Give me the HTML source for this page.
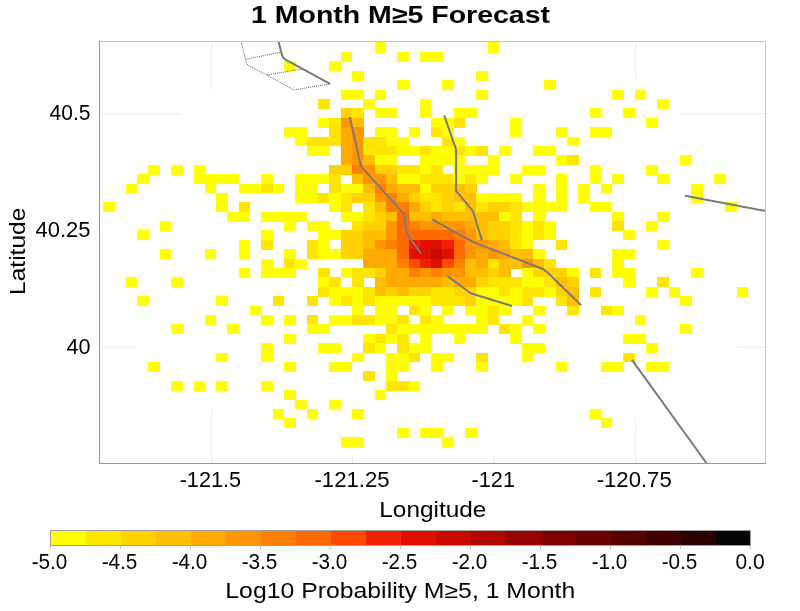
<!DOCTYPE html><html><head><meta charset="utf-8"><style>html,body{margin:0;padding:0;background:#fff;}body{width:800px;height:611px;position:relative;overflow:hidden}</style></head><body><svg width="800" height="611" viewBox="0 0 800 611" style="position:absolute;left:0;top:0;will-change:transform">
<defs><clipPath id="pc"><rect x="100" y="42" width="665" height="421"/></clipPath></defs>
<g stroke="#ebebeb" stroke-width="1" shape-rendering="crispEdges">
<line x1="211.5" y1="42" x2="211.5" y2="463"/>
<line x1="352.5" y1="42" x2="352.5" y2="463"/>
<line x1="493.5" y1="42" x2="493.5" y2="463"/>
<line x1="635.5" y1="42" x2="635.5" y2="463"/>
<line x1="100" y1="113.5" x2="765" y2="113.5"/>
<line x1="100" y1="230.5" x2="765" y2="230.5"/>
<line x1="100" y1="347.5" x2="765" y2="347.5"/>
</g>
<g clip-path="url(#pc)">
<path fill="#fff" d="M374.3 33.0h11.9v10.0h-11.9zM385.6 33.0h11.9v10.0h-11.9zM396.9 33.0h11.9v10.0h-11.9zM408.2 33.0h11.9v10.0h-11.9zM419.5 33.0h11.9v10.0h-11.9zM430.8 33.0h11.9v10.0h-11.9zM442.1 33.0h11.9v10.0h-11.9zM453.5 33.0h11.9v10.0h-11.9zM464.8 33.0h11.9v10.0h-11.9zM476.1 33.0h11.9v10.0h-11.9zM487.4 33.0h11.9v10.0h-11.9zM329.0 42.4h11.9v10.0h-11.9zM340.3 42.4h11.9v10.0h-11.9zM351.6 42.4h11.9v10.0h-11.9zM362.9 42.4h11.9v10.0h-11.9zM374.3 42.4h11.9v10.0h-11.9zM385.6 42.4h11.9v10.0h-11.9zM396.9 42.4h11.9v10.0h-11.9zM408.2 42.4h11.9v10.0h-11.9zM419.5 42.4h11.9v10.0h-11.9zM430.8 42.4h11.9v10.0h-11.9zM442.1 42.4h11.9v10.0h-11.9zM453.5 42.4h11.9v10.0h-11.9zM464.8 42.4h11.9v10.0h-11.9zM476.1 42.4h11.9v10.0h-11.9zM487.4 42.4h11.9v10.0h-11.9zM498.7 42.4h11.9v10.0h-11.9zM510.0 42.4h11.9v10.0h-11.9zM521.4 42.4h11.9v10.0h-11.9zM532.7 42.4h11.9v10.0h-11.9zM295.1 51.8h11.9v10.0h-11.9zM306.4 51.8h11.9v10.0h-11.9zM317.7 51.8h11.9v10.0h-11.9zM329.0 51.8h11.9v10.0h-11.9zM340.3 51.8h11.9v10.0h-11.9zM351.6 51.8h11.9v10.0h-11.9zM362.9 51.8h11.9v10.0h-11.9zM374.3 51.8h11.9v10.0h-11.9zM385.6 51.8h11.9v10.0h-11.9zM396.9 51.8h11.9v10.0h-11.9zM408.2 51.8h11.9v10.0h-11.9zM419.5 51.8h11.9v10.0h-11.9zM430.8 51.8h11.9v10.0h-11.9zM442.1 51.8h11.9v10.0h-11.9zM453.5 51.8h11.9v10.0h-11.9zM464.8 51.8h11.9v10.0h-11.9zM476.1 51.8h11.9v10.0h-11.9zM487.4 51.8h11.9v10.0h-11.9zM498.7 51.8h11.9v10.0h-11.9zM510.0 51.8h11.9v10.0h-11.9zM521.4 51.8h11.9v10.0h-11.9zM532.7 51.8h11.9v10.0h-11.9zM544.0 51.8h11.9v10.0h-11.9zM555.3 51.8h11.9v10.0h-11.9zM566.6 51.8h11.9v10.0h-11.9zM261.1 61.2h11.9v10.0h-11.9zM272.4 61.2h11.9v10.0h-11.9zM283.7 61.2h11.9v10.0h-11.9zM295.1 61.2h11.9v10.0h-11.9zM306.4 61.2h11.9v10.0h-11.9zM317.7 61.2h11.9v10.0h-11.9zM329.0 61.2h11.9v10.0h-11.9zM340.3 61.2h11.9v10.0h-11.9zM351.6 61.2h11.9v10.0h-11.9zM362.9 61.2h11.9v10.0h-11.9zM374.3 61.2h11.9v10.0h-11.9zM385.6 61.2h11.9v10.0h-11.9zM396.9 61.2h11.9v10.0h-11.9zM408.2 61.2h11.9v10.0h-11.9zM419.5 61.2h11.9v10.0h-11.9zM430.8 61.2h11.9v10.0h-11.9zM442.1 61.2h11.9v10.0h-11.9zM453.5 61.2h11.9v10.0h-11.9zM464.8 61.2h11.9v10.0h-11.9zM476.1 61.2h11.9v10.0h-11.9zM487.4 61.2h11.9v10.0h-11.9zM498.7 61.2h11.9v10.0h-11.9zM510.0 61.2h11.9v10.0h-11.9zM521.4 61.2h11.9v10.0h-11.9zM532.7 61.2h11.9v10.0h-11.9zM544.0 61.2h11.9v10.0h-11.9zM555.3 61.2h11.9v10.0h-11.9zM566.6 61.2h11.9v10.0h-11.9zM577.9 61.2h11.9v10.0h-11.9zM589.2 61.2h11.9v10.0h-11.9zM600.6 61.2h11.9v10.0h-11.9zM238.5 70.6h11.9v10.0h-11.9zM249.8 70.6h11.9v10.0h-11.9zM261.1 70.6h11.9v10.0h-11.9zM272.4 70.6h11.9v10.0h-11.9zM283.7 70.6h11.9v10.0h-11.9zM295.1 70.6h11.9v10.0h-11.9zM306.4 70.6h11.9v10.0h-11.9zM317.7 70.6h11.9v10.0h-11.9zM329.0 70.6h11.9v10.0h-11.9zM340.3 70.6h11.9v10.0h-11.9zM351.6 70.6h11.9v10.0h-11.9zM362.9 70.6h11.9v10.0h-11.9zM374.3 70.6h11.9v10.0h-11.9zM385.6 70.6h11.9v10.0h-11.9zM396.9 70.6h11.9v10.0h-11.9zM408.2 70.6h11.9v10.0h-11.9zM419.5 70.6h11.9v10.0h-11.9zM430.8 70.6h11.9v10.0h-11.9zM442.1 70.6h11.9v10.0h-11.9zM453.5 70.6h11.9v10.0h-11.9zM464.8 70.6h11.9v10.0h-11.9zM476.1 70.6h11.9v10.0h-11.9zM487.4 70.6h11.9v10.0h-11.9zM498.7 70.6h11.9v10.0h-11.9zM510.0 70.6h11.9v10.0h-11.9zM521.4 70.6h11.9v10.0h-11.9zM532.7 70.6h11.9v10.0h-11.9zM544.0 70.6h11.9v10.0h-11.9zM555.3 70.6h11.9v10.0h-11.9zM566.6 70.6h11.9v10.0h-11.9zM577.9 70.6h11.9v10.0h-11.9zM589.2 70.6h11.9v10.0h-11.9zM600.6 70.6h11.9v10.0h-11.9zM611.9 70.6h11.9v10.0h-11.9zM623.2 70.6h11.9v10.0h-11.9zM227.2 80.0h11.9v10.0h-11.9zM238.5 80.0h11.9v10.0h-11.9zM249.8 80.0h11.9v10.0h-11.9zM261.1 80.0h11.9v10.0h-11.9zM272.4 80.0h11.9v10.0h-11.9zM283.7 80.0h11.9v10.0h-11.9zM295.1 80.0h11.9v10.0h-11.9zM306.4 80.0h11.9v10.0h-11.9zM317.7 80.0h11.9v10.0h-11.9zM329.0 80.0h11.9v10.0h-11.9zM340.3 80.0h11.9v10.0h-11.9zM351.6 80.0h11.9v10.0h-11.9zM362.9 80.0h11.9v10.0h-11.9zM374.3 80.0h11.9v10.0h-11.9zM385.6 80.0h11.9v10.0h-11.9zM396.9 80.0h11.9v10.0h-11.9zM408.2 80.0h11.9v10.0h-11.9zM419.5 80.0h11.9v10.0h-11.9zM430.8 80.0h11.9v10.0h-11.9zM442.1 80.0h11.9v10.0h-11.9zM453.5 80.0h11.9v10.0h-11.9zM464.8 80.0h11.9v10.0h-11.9zM476.1 80.0h11.9v10.0h-11.9zM487.4 80.0h11.9v10.0h-11.9zM498.7 80.0h11.9v10.0h-11.9zM510.0 80.0h11.9v10.0h-11.9zM521.4 80.0h11.9v10.0h-11.9zM532.7 80.0h11.9v10.0h-11.9zM544.0 80.0h11.9v10.0h-11.9zM555.3 80.0h11.9v10.0h-11.9zM566.6 80.0h11.9v10.0h-11.9zM577.9 80.0h11.9v10.0h-11.9zM589.2 80.0h11.9v10.0h-11.9zM600.6 80.0h11.9v10.0h-11.9zM611.9 80.0h11.9v10.0h-11.9zM623.2 80.0h11.9v10.0h-11.9zM634.5 80.0h11.9v10.0h-11.9zM204.5 89.4h11.9v10.0h-11.9zM215.8 89.4h11.9v10.0h-11.9zM227.2 89.4h11.9v10.0h-11.9zM238.5 89.4h11.9v10.0h-11.9zM249.8 89.4h11.9v10.0h-11.9zM261.1 89.4h11.9v10.0h-11.9zM272.4 89.4h11.9v10.0h-11.9zM283.7 89.4h11.9v10.0h-11.9zM295.1 89.4h11.9v10.0h-11.9zM306.4 89.4h11.9v10.0h-11.9zM317.7 89.4h11.9v10.0h-11.9zM329.0 89.4h11.9v10.0h-11.9zM340.3 89.4h11.9v10.0h-11.9zM351.6 89.4h11.9v10.0h-11.9zM362.9 89.4h11.9v10.0h-11.9zM374.3 89.4h11.9v10.0h-11.9zM385.6 89.4h11.9v10.0h-11.9zM396.9 89.4h11.9v10.0h-11.9zM408.2 89.4h11.9v10.0h-11.9zM419.5 89.4h11.9v10.0h-11.9zM430.8 89.4h11.9v10.0h-11.9zM442.1 89.4h11.9v10.0h-11.9zM453.5 89.4h11.9v10.0h-11.9zM464.8 89.4h11.9v10.0h-11.9zM476.1 89.4h11.9v10.0h-11.9zM487.4 89.4h11.9v10.0h-11.9zM498.7 89.4h11.9v10.0h-11.9zM510.0 89.4h11.9v10.0h-11.9zM521.4 89.4h11.9v10.0h-11.9zM532.7 89.4h11.9v10.0h-11.9zM544.0 89.4h11.9v10.0h-11.9zM555.3 89.4h11.9v10.0h-11.9zM566.6 89.4h11.9v10.0h-11.9zM577.9 89.4h11.9v10.0h-11.9zM589.2 89.4h11.9v10.0h-11.9zM600.6 89.4h11.9v10.0h-11.9zM611.9 89.4h11.9v10.0h-11.9zM623.2 89.4h11.9v10.0h-11.9zM634.5 89.4h11.9v10.0h-11.9zM645.8 89.4h11.9v10.0h-11.9zM657.1 89.4h11.9v10.0h-11.9zM193.2 98.7h11.9v10.0h-11.9zM204.5 98.7h11.9v10.0h-11.9zM215.8 98.7h11.9v10.0h-11.9zM227.2 98.7h11.9v10.0h-11.9zM238.5 98.7h11.9v10.0h-11.9zM249.8 98.7h11.9v10.0h-11.9zM261.1 98.7h11.9v10.0h-11.9zM272.4 98.7h11.9v10.0h-11.9zM283.7 98.7h11.9v10.0h-11.9zM295.1 98.7h11.9v10.0h-11.9zM306.4 98.7h11.9v10.0h-11.9zM317.7 98.7h11.9v10.0h-11.9zM329.0 98.7h11.9v10.0h-11.9zM340.3 98.7h11.9v10.0h-11.9zM351.6 98.7h11.9v10.0h-11.9zM362.9 98.7h11.9v10.0h-11.9zM374.3 98.7h11.9v10.0h-11.9zM385.6 98.7h11.9v10.0h-11.9zM396.9 98.7h11.9v10.0h-11.9zM408.2 98.7h11.9v10.0h-11.9zM419.5 98.7h11.9v10.0h-11.9zM430.8 98.7h11.9v10.0h-11.9zM442.1 98.7h11.9v10.0h-11.9zM453.5 98.7h11.9v10.0h-11.9zM464.8 98.7h11.9v10.0h-11.9zM476.1 98.7h11.9v10.0h-11.9zM487.4 98.7h11.9v10.0h-11.9zM498.7 98.7h11.9v10.0h-11.9zM510.0 98.7h11.9v10.0h-11.9zM521.4 98.7h11.9v10.0h-11.9zM532.7 98.7h11.9v10.0h-11.9zM544.0 98.7h11.9v10.0h-11.9zM555.3 98.7h11.9v10.0h-11.9zM566.6 98.7h11.9v10.0h-11.9zM577.9 98.7h11.9v10.0h-11.9zM589.2 98.7h11.9v10.0h-11.9zM600.6 98.7h11.9v10.0h-11.9zM611.9 98.7h11.9v10.0h-11.9zM623.2 98.7h11.9v10.0h-11.9zM634.5 98.7h11.9v10.0h-11.9zM645.8 98.7h11.9v10.0h-11.9zM657.1 98.7h11.9v10.0h-11.9zM668.5 98.7h11.9v10.0h-11.9zM181.9 108.1h11.9v10.0h-11.9zM193.2 108.1h11.9v10.0h-11.9zM204.5 108.1h11.9v10.0h-11.9zM215.8 108.1h11.9v10.0h-11.9zM227.2 108.1h11.9v10.0h-11.9zM238.5 108.1h11.9v10.0h-11.9zM249.8 108.1h11.9v10.0h-11.9zM261.1 108.1h11.9v10.0h-11.9zM272.4 108.1h11.9v10.0h-11.9zM283.7 108.1h11.9v10.0h-11.9zM295.1 108.1h11.9v10.0h-11.9zM306.4 108.1h11.9v10.0h-11.9zM317.7 108.1h11.9v10.0h-11.9zM329.0 108.1h11.9v10.0h-11.9zM340.3 108.1h11.9v10.0h-11.9zM351.6 108.1h11.9v10.0h-11.9zM362.9 108.1h11.9v10.0h-11.9zM374.3 108.1h11.9v10.0h-11.9zM385.6 108.1h11.9v10.0h-11.9zM396.9 108.1h11.9v10.0h-11.9zM408.2 108.1h11.9v10.0h-11.9zM419.5 108.1h11.9v10.0h-11.9zM430.8 108.1h11.9v10.0h-11.9zM442.1 108.1h11.9v10.0h-11.9zM453.5 108.1h11.9v10.0h-11.9zM464.8 108.1h11.9v10.0h-11.9zM476.1 108.1h11.9v10.0h-11.9zM487.4 108.1h11.9v10.0h-11.9zM498.7 108.1h11.9v10.0h-11.9zM510.0 108.1h11.9v10.0h-11.9zM521.4 108.1h11.9v10.0h-11.9zM532.7 108.1h11.9v10.0h-11.9zM544.0 108.1h11.9v10.0h-11.9zM555.3 108.1h11.9v10.0h-11.9zM566.6 108.1h11.9v10.0h-11.9zM577.9 108.1h11.9v10.0h-11.9zM589.2 108.1h11.9v10.0h-11.9zM600.6 108.1h11.9v10.0h-11.9zM611.9 108.1h11.9v10.0h-11.9zM623.2 108.1h11.9v10.0h-11.9zM634.5 108.1h11.9v10.0h-11.9zM645.8 108.1h11.9v10.0h-11.9zM657.1 108.1h11.9v10.0h-11.9zM668.5 108.1h11.9v10.0h-11.9zM170.6 117.5h11.9v10.0h-11.9zM181.9 117.5h11.9v10.0h-11.9zM193.2 117.5h11.9v10.0h-11.9zM204.5 117.5h11.9v10.0h-11.9zM215.8 117.5h11.9v10.0h-11.9zM227.2 117.5h11.9v10.0h-11.9zM238.5 117.5h11.9v10.0h-11.9zM249.8 117.5h11.9v10.0h-11.9zM261.1 117.5h11.9v10.0h-11.9zM272.4 117.5h11.9v10.0h-11.9zM283.7 117.5h11.9v10.0h-11.9zM295.1 117.5h11.9v10.0h-11.9zM306.4 117.5h11.9v10.0h-11.9zM317.7 117.5h11.9v10.0h-11.9zM329.0 117.5h11.9v10.0h-11.9zM340.3 117.5h11.9v10.0h-11.9zM351.6 117.5h11.9v10.0h-11.9zM362.9 117.5h11.9v10.0h-11.9zM374.3 117.5h11.9v10.0h-11.9zM385.6 117.5h11.9v10.0h-11.9zM396.9 117.5h11.9v10.0h-11.9zM408.2 117.5h11.9v10.0h-11.9zM419.5 117.5h11.9v10.0h-11.9zM430.8 117.5h11.9v10.0h-11.9zM442.1 117.5h11.9v10.0h-11.9zM453.5 117.5h11.9v10.0h-11.9zM464.8 117.5h11.9v10.0h-11.9zM476.1 117.5h11.9v10.0h-11.9zM487.4 117.5h11.9v10.0h-11.9zM498.7 117.5h11.9v10.0h-11.9zM510.0 117.5h11.9v10.0h-11.9zM521.4 117.5h11.9v10.0h-11.9zM532.7 117.5h11.9v10.0h-11.9zM544.0 117.5h11.9v10.0h-11.9zM555.3 117.5h11.9v10.0h-11.9zM566.6 117.5h11.9v10.0h-11.9zM577.9 117.5h11.9v10.0h-11.9zM589.2 117.5h11.9v10.0h-11.9zM600.6 117.5h11.9v10.0h-11.9zM611.9 117.5h11.9v10.0h-11.9zM623.2 117.5h11.9v10.0h-11.9zM634.5 117.5h11.9v10.0h-11.9zM645.8 117.5h11.9v10.0h-11.9zM657.1 117.5h11.9v10.0h-11.9zM668.5 117.5h11.9v10.0h-11.9zM679.8 117.5h11.9v10.0h-11.9zM691.1 117.5h11.9v10.0h-11.9zM159.3 126.9h11.9v10.0h-11.9zM170.6 126.9h11.9v10.0h-11.9zM181.9 126.9h11.9v10.0h-11.9zM193.2 126.9h11.9v10.0h-11.9zM204.5 126.9h11.9v10.0h-11.9zM215.8 126.9h11.9v10.0h-11.9zM227.2 126.9h11.9v10.0h-11.9zM238.5 126.9h11.9v10.0h-11.9zM249.8 126.9h11.9v10.0h-11.9zM261.1 126.9h11.9v10.0h-11.9zM272.4 126.9h11.9v10.0h-11.9zM283.7 126.9h11.9v10.0h-11.9zM295.1 126.9h11.9v10.0h-11.9zM306.4 126.9h11.9v10.0h-11.9zM317.7 126.9h11.9v10.0h-11.9zM329.0 126.9h11.9v10.0h-11.9zM340.3 126.9h11.9v10.0h-11.9zM351.6 126.9h11.9v10.0h-11.9zM362.9 126.9h11.9v10.0h-11.9zM374.3 126.9h11.9v10.0h-11.9zM385.6 126.9h11.9v10.0h-11.9zM396.9 126.9h11.9v10.0h-11.9zM408.2 126.9h11.9v10.0h-11.9zM419.5 126.9h11.9v10.0h-11.9zM430.8 126.9h11.9v10.0h-11.9zM442.1 126.9h11.9v10.0h-11.9zM453.5 126.9h11.9v10.0h-11.9zM464.8 126.9h11.9v10.0h-11.9zM476.1 126.9h11.9v10.0h-11.9zM487.4 126.9h11.9v10.0h-11.9zM498.7 126.9h11.9v10.0h-11.9zM510.0 126.9h11.9v10.0h-11.9zM521.4 126.9h11.9v10.0h-11.9zM532.7 126.9h11.9v10.0h-11.9zM544.0 126.9h11.9v10.0h-11.9zM555.3 126.9h11.9v10.0h-11.9zM566.6 126.9h11.9v10.0h-11.9zM577.9 126.9h11.9v10.0h-11.9zM589.2 126.9h11.9v10.0h-11.9zM600.6 126.9h11.9v10.0h-11.9zM611.9 126.9h11.9v10.0h-11.9zM623.2 126.9h11.9v10.0h-11.9zM634.5 126.9h11.9v10.0h-11.9zM645.8 126.9h11.9v10.0h-11.9zM657.1 126.9h11.9v10.0h-11.9zM668.5 126.9h11.9v10.0h-11.9zM679.8 126.9h11.9v10.0h-11.9zM691.1 126.9h11.9v10.0h-11.9zM702.4 126.9h11.9v10.0h-11.9zM148.0 136.3h11.9v10.0h-11.9zM159.3 136.3h11.9v10.0h-11.9zM170.6 136.3h11.9v10.0h-11.9zM181.9 136.3h11.9v10.0h-11.9zM193.2 136.3h11.9v10.0h-11.9zM204.5 136.3h11.9v10.0h-11.9zM215.8 136.3h11.9v10.0h-11.9zM227.2 136.3h11.9v10.0h-11.9zM238.5 136.3h11.9v10.0h-11.9zM249.8 136.3h11.9v10.0h-11.9zM261.1 136.3h11.9v10.0h-11.9zM272.4 136.3h11.9v10.0h-11.9zM283.7 136.3h11.9v10.0h-11.9zM295.1 136.3h11.9v10.0h-11.9zM306.4 136.3h11.9v10.0h-11.9zM317.7 136.3h11.9v10.0h-11.9zM329.0 136.3h11.9v10.0h-11.9zM340.3 136.3h11.9v10.0h-11.9zM351.6 136.3h11.9v10.0h-11.9zM362.9 136.3h11.9v10.0h-11.9zM374.3 136.3h11.9v10.0h-11.9zM385.6 136.3h11.9v10.0h-11.9zM396.9 136.3h11.9v10.0h-11.9zM408.2 136.3h11.9v10.0h-11.9zM419.5 136.3h11.9v10.0h-11.9zM430.8 136.3h11.9v10.0h-11.9zM442.1 136.3h11.9v10.0h-11.9zM453.5 136.3h11.9v10.0h-11.9zM464.8 136.3h11.9v10.0h-11.9zM476.1 136.3h11.9v10.0h-11.9zM487.4 136.3h11.9v10.0h-11.9zM498.7 136.3h11.9v10.0h-11.9zM510.0 136.3h11.9v10.0h-11.9zM521.4 136.3h11.9v10.0h-11.9zM532.7 136.3h11.9v10.0h-11.9zM544.0 136.3h11.9v10.0h-11.9zM555.3 136.3h11.9v10.0h-11.9zM566.6 136.3h11.9v10.0h-11.9zM577.9 136.3h11.9v10.0h-11.9zM589.2 136.3h11.9v10.0h-11.9zM600.6 136.3h11.9v10.0h-11.9zM611.9 136.3h11.9v10.0h-11.9zM623.2 136.3h11.9v10.0h-11.9zM634.5 136.3h11.9v10.0h-11.9zM645.8 136.3h11.9v10.0h-11.9zM657.1 136.3h11.9v10.0h-11.9zM668.5 136.3h11.9v10.0h-11.9zM679.8 136.3h11.9v10.0h-11.9zM691.1 136.3h11.9v10.0h-11.9zM702.4 136.3h11.9v10.0h-11.9zM713.7 136.3h11.9v10.0h-11.9zM136.6 145.7h11.9v10.0h-11.9zM148.0 145.7h11.9v10.0h-11.9zM159.3 145.7h11.9v10.0h-11.9zM170.6 145.7h11.9v10.0h-11.9zM181.9 145.7h11.9v10.0h-11.9zM193.2 145.7h11.9v10.0h-11.9zM204.5 145.7h11.9v10.0h-11.9zM215.8 145.7h11.9v10.0h-11.9zM227.2 145.7h11.9v10.0h-11.9zM238.5 145.7h11.9v10.0h-11.9zM249.8 145.7h11.9v10.0h-11.9zM261.1 145.7h11.9v10.0h-11.9zM272.4 145.7h11.9v10.0h-11.9zM283.7 145.7h11.9v10.0h-11.9zM295.1 145.7h11.9v10.0h-11.9zM306.4 145.7h11.9v10.0h-11.9zM317.7 145.7h11.9v10.0h-11.9zM329.0 145.7h11.9v10.0h-11.9zM340.3 145.7h11.9v10.0h-11.9zM351.6 145.7h11.9v10.0h-11.9zM362.9 145.7h11.9v10.0h-11.9zM374.3 145.7h11.9v10.0h-11.9zM385.6 145.7h11.9v10.0h-11.9zM396.9 145.7h11.9v10.0h-11.9zM408.2 145.7h11.9v10.0h-11.9zM419.5 145.7h11.9v10.0h-11.9zM430.8 145.7h11.9v10.0h-11.9zM442.1 145.7h11.9v10.0h-11.9zM453.5 145.7h11.9v10.0h-11.9zM464.8 145.7h11.9v10.0h-11.9zM476.1 145.7h11.9v10.0h-11.9zM487.4 145.7h11.9v10.0h-11.9zM498.7 145.7h11.9v10.0h-11.9zM510.0 145.7h11.9v10.0h-11.9zM521.4 145.7h11.9v10.0h-11.9zM532.7 145.7h11.9v10.0h-11.9zM544.0 145.7h11.9v10.0h-11.9zM555.3 145.7h11.9v10.0h-11.9zM566.6 145.7h11.9v10.0h-11.9zM577.9 145.7h11.9v10.0h-11.9zM589.2 145.7h11.9v10.0h-11.9zM600.6 145.7h11.9v10.0h-11.9zM611.9 145.7h11.9v10.0h-11.9zM623.2 145.7h11.9v10.0h-11.9zM634.5 145.7h11.9v10.0h-11.9zM645.8 145.7h11.9v10.0h-11.9zM657.1 145.7h11.9v10.0h-11.9zM668.5 145.7h11.9v10.0h-11.9zM679.8 145.7h11.9v10.0h-11.9zM691.1 145.7h11.9v10.0h-11.9zM702.4 145.7h11.9v10.0h-11.9zM713.7 145.7h11.9v10.0h-11.9zM725.0 145.7h11.9v10.0h-11.9zM125.3 155.1h11.9v10.0h-11.9zM136.6 155.1h11.9v10.0h-11.9zM148.0 155.1h11.9v10.0h-11.9zM159.3 155.1h11.9v10.0h-11.9zM170.6 155.1h11.9v10.0h-11.9zM181.9 155.1h11.9v10.0h-11.9zM193.2 155.1h11.9v10.0h-11.9zM204.5 155.1h11.9v10.0h-11.9zM215.8 155.1h11.9v10.0h-11.9zM227.2 155.1h11.9v10.0h-11.9zM238.5 155.1h11.9v10.0h-11.9zM249.8 155.1h11.9v10.0h-11.9zM261.1 155.1h11.9v10.0h-11.9zM272.4 155.1h11.9v10.0h-11.9zM283.7 155.1h11.9v10.0h-11.9zM295.1 155.1h11.9v10.0h-11.9zM306.4 155.1h11.9v10.0h-11.9zM317.7 155.1h11.9v10.0h-11.9zM329.0 155.1h11.9v10.0h-11.9zM340.3 155.1h11.9v10.0h-11.9zM351.6 155.1h11.9v10.0h-11.9zM362.9 155.1h11.9v10.0h-11.9zM374.3 155.1h11.9v10.0h-11.9zM385.6 155.1h11.9v10.0h-11.9zM396.9 155.1h11.9v10.0h-11.9zM408.2 155.1h11.9v10.0h-11.9zM419.5 155.1h11.9v10.0h-11.9zM430.8 155.1h11.9v10.0h-11.9zM442.1 155.1h11.9v10.0h-11.9zM453.5 155.1h11.9v10.0h-11.9zM464.8 155.1h11.9v10.0h-11.9zM476.1 155.1h11.9v10.0h-11.9zM487.4 155.1h11.9v10.0h-11.9zM498.7 155.1h11.9v10.0h-11.9zM510.0 155.1h11.9v10.0h-11.9zM521.4 155.1h11.9v10.0h-11.9zM532.7 155.1h11.9v10.0h-11.9zM544.0 155.1h11.9v10.0h-11.9zM555.3 155.1h11.9v10.0h-11.9zM566.6 155.1h11.9v10.0h-11.9zM577.9 155.1h11.9v10.0h-11.9zM589.2 155.1h11.9v10.0h-11.9zM600.6 155.1h11.9v10.0h-11.9zM611.9 155.1h11.9v10.0h-11.9zM623.2 155.1h11.9v10.0h-11.9zM634.5 155.1h11.9v10.0h-11.9zM645.8 155.1h11.9v10.0h-11.9zM657.1 155.1h11.9v10.0h-11.9zM668.5 155.1h11.9v10.0h-11.9zM679.8 155.1h11.9v10.0h-11.9zM691.1 155.1h11.9v10.0h-11.9zM702.4 155.1h11.9v10.0h-11.9zM713.7 155.1h11.9v10.0h-11.9zM725.0 155.1h11.9v10.0h-11.9zM736.3 155.1h11.9v10.0h-11.9zM125.3 164.5h11.9v10.0h-11.9zM136.6 164.5h11.9v10.0h-11.9zM148.0 164.5h11.9v10.0h-11.9zM159.3 164.5h11.9v10.0h-11.9zM170.6 164.5h11.9v10.0h-11.9zM181.9 164.5h11.9v10.0h-11.9zM193.2 164.5h11.9v10.0h-11.9zM204.5 164.5h11.9v10.0h-11.9zM215.8 164.5h11.9v10.0h-11.9zM227.2 164.5h11.9v10.0h-11.9zM238.5 164.5h11.9v10.0h-11.9zM249.8 164.5h11.9v10.0h-11.9zM261.1 164.5h11.9v10.0h-11.9zM272.4 164.5h11.9v10.0h-11.9zM283.7 164.5h11.9v10.0h-11.9zM295.1 164.5h11.9v10.0h-11.9zM306.4 164.5h11.9v10.0h-11.9zM317.7 164.5h11.9v10.0h-11.9zM329.0 164.5h11.9v10.0h-11.9zM340.3 164.5h11.9v10.0h-11.9zM351.6 164.5h11.9v10.0h-11.9zM362.9 164.5h11.9v10.0h-11.9zM374.3 164.5h11.9v10.0h-11.9zM385.6 164.5h11.9v10.0h-11.9zM396.9 164.5h11.9v10.0h-11.9zM408.2 164.5h11.9v10.0h-11.9zM419.5 164.5h11.9v10.0h-11.9zM430.8 164.5h11.9v10.0h-11.9zM442.1 164.5h11.9v10.0h-11.9zM453.5 164.5h11.9v10.0h-11.9zM464.8 164.5h11.9v10.0h-11.9zM476.1 164.5h11.9v10.0h-11.9zM487.4 164.5h11.9v10.0h-11.9zM498.7 164.5h11.9v10.0h-11.9zM510.0 164.5h11.9v10.0h-11.9zM521.4 164.5h11.9v10.0h-11.9zM532.7 164.5h11.9v10.0h-11.9zM544.0 164.5h11.9v10.0h-11.9zM555.3 164.5h11.9v10.0h-11.9zM566.6 164.5h11.9v10.0h-11.9zM577.9 164.5h11.9v10.0h-11.9zM589.2 164.5h11.9v10.0h-11.9zM600.6 164.5h11.9v10.0h-11.9zM611.9 164.5h11.9v10.0h-11.9zM623.2 164.5h11.9v10.0h-11.9zM634.5 164.5h11.9v10.0h-11.9zM645.8 164.5h11.9v10.0h-11.9zM657.1 164.5h11.9v10.0h-11.9zM668.5 164.5h11.9v10.0h-11.9zM679.8 164.5h11.9v10.0h-11.9zM691.1 164.5h11.9v10.0h-11.9zM702.4 164.5h11.9v10.0h-11.9zM713.7 164.5h11.9v10.0h-11.9zM725.0 164.5h11.9v10.0h-11.9zM736.3 164.5h11.9v10.0h-11.9zM114.0 173.9h11.9v10.0h-11.9zM125.3 173.9h11.9v10.0h-11.9zM136.6 173.9h11.9v10.0h-11.9zM148.0 173.9h11.9v10.0h-11.9zM159.3 173.9h11.9v10.0h-11.9zM170.6 173.9h11.9v10.0h-11.9zM181.9 173.9h11.9v10.0h-11.9zM193.2 173.9h11.9v10.0h-11.9zM204.5 173.9h11.9v10.0h-11.9zM215.8 173.9h11.9v10.0h-11.9zM227.2 173.9h11.9v10.0h-11.9zM238.5 173.9h11.9v10.0h-11.9zM249.8 173.9h11.9v10.0h-11.9zM261.1 173.9h11.9v10.0h-11.9zM272.4 173.9h11.9v10.0h-11.9zM283.7 173.9h11.9v10.0h-11.9zM295.1 173.9h11.9v10.0h-11.9zM306.4 173.9h11.9v10.0h-11.9zM317.7 173.9h11.9v10.0h-11.9zM329.0 173.9h11.9v10.0h-11.9zM340.3 173.9h11.9v10.0h-11.9zM351.6 173.9h11.9v10.0h-11.9zM362.9 173.9h11.9v10.0h-11.9zM374.3 173.9h11.9v10.0h-11.9zM385.6 173.9h11.9v10.0h-11.9zM396.9 173.9h11.9v10.0h-11.9zM408.2 173.9h11.9v10.0h-11.9zM419.5 173.9h11.9v10.0h-11.9zM430.8 173.9h11.9v10.0h-11.9zM442.1 173.9h11.9v10.0h-11.9zM453.5 173.9h11.9v10.0h-11.9zM464.8 173.9h11.9v10.0h-11.9zM476.1 173.9h11.9v10.0h-11.9zM487.4 173.9h11.9v10.0h-11.9zM498.7 173.9h11.9v10.0h-11.9zM510.0 173.9h11.9v10.0h-11.9zM521.4 173.9h11.9v10.0h-11.9zM532.7 173.9h11.9v10.0h-11.9zM544.0 173.9h11.9v10.0h-11.9zM555.3 173.9h11.9v10.0h-11.9zM566.6 173.9h11.9v10.0h-11.9zM577.9 173.9h11.9v10.0h-11.9zM589.2 173.9h11.9v10.0h-11.9zM600.6 173.9h11.9v10.0h-11.9zM611.9 173.9h11.9v10.0h-11.9zM623.2 173.9h11.9v10.0h-11.9zM634.5 173.9h11.9v10.0h-11.9zM645.8 173.9h11.9v10.0h-11.9zM657.1 173.9h11.9v10.0h-11.9zM668.5 173.9h11.9v10.0h-11.9zM679.8 173.9h11.9v10.0h-11.9zM691.1 173.9h11.9v10.0h-11.9zM702.4 173.9h11.9v10.0h-11.9zM713.7 173.9h11.9v10.0h-11.9zM725.0 173.9h11.9v10.0h-11.9zM736.3 173.9h11.9v10.0h-11.9zM747.7 173.9h11.9v10.0h-11.9zM114.0 183.2h11.9v10.0h-11.9zM125.3 183.2h11.9v10.0h-11.9zM136.6 183.2h11.9v10.0h-11.9zM148.0 183.2h11.9v10.0h-11.9zM159.3 183.2h11.9v10.0h-11.9zM170.6 183.2h11.9v10.0h-11.9zM181.9 183.2h11.9v10.0h-11.9zM193.2 183.2h11.9v10.0h-11.9zM204.5 183.2h11.9v10.0h-11.9zM215.8 183.2h11.9v10.0h-11.9zM227.2 183.2h11.9v10.0h-11.9zM238.5 183.2h11.9v10.0h-11.9zM249.8 183.2h11.9v10.0h-11.9zM261.1 183.2h11.9v10.0h-11.9zM272.4 183.2h11.9v10.0h-11.9zM283.7 183.2h11.9v10.0h-11.9zM295.1 183.2h11.9v10.0h-11.9zM306.4 183.2h11.9v10.0h-11.9zM317.7 183.2h11.9v10.0h-11.9zM329.0 183.2h11.9v10.0h-11.9zM340.3 183.2h11.9v10.0h-11.9zM351.6 183.2h11.9v10.0h-11.9zM362.9 183.2h11.9v10.0h-11.9zM374.3 183.2h11.9v10.0h-11.9zM385.6 183.2h11.9v10.0h-11.9zM396.9 183.2h11.9v10.0h-11.9zM408.2 183.2h11.9v10.0h-11.9zM419.5 183.2h11.9v10.0h-11.9zM430.8 183.2h11.9v10.0h-11.9zM442.1 183.2h11.9v10.0h-11.9zM453.5 183.2h11.9v10.0h-11.9zM464.8 183.2h11.9v10.0h-11.9zM476.1 183.2h11.9v10.0h-11.9zM487.4 183.2h11.9v10.0h-11.9zM498.7 183.2h11.9v10.0h-11.9zM510.0 183.2h11.9v10.0h-11.9zM521.4 183.2h11.9v10.0h-11.9zM532.7 183.2h11.9v10.0h-11.9zM544.0 183.2h11.9v10.0h-11.9zM555.3 183.2h11.9v10.0h-11.9zM566.6 183.2h11.9v10.0h-11.9zM577.9 183.2h11.9v10.0h-11.9zM589.2 183.2h11.9v10.0h-11.9zM600.6 183.2h11.9v10.0h-11.9zM611.9 183.2h11.9v10.0h-11.9zM623.2 183.2h11.9v10.0h-11.9zM634.5 183.2h11.9v10.0h-11.9zM645.8 183.2h11.9v10.0h-11.9zM657.1 183.2h11.9v10.0h-11.9zM668.5 183.2h11.9v10.0h-11.9zM679.8 183.2h11.9v10.0h-11.9zM691.1 183.2h11.9v10.0h-11.9zM702.4 183.2h11.9v10.0h-11.9zM713.7 183.2h11.9v10.0h-11.9zM725.0 183.2h11.9v10.0h-11.9zM736.3 183.2h11.9v10.0h-11.9zM747.7 183.2h11.9v10.0h-11.9zM114.0 192.6h11.9v10.0h-11.9zM125.3 192.6h11.9v10.0h-11.9zM136.6 192.6h11.9v10.0h-11.9zM148.0 192.6h11.9v10.0h-11.9zM159.3 192.6h11.9v10.0h-11.9zM170.6 192.6h11.9v10.0h-11.9zM181.9 192.6h11.9v10.0h-11.9zM193.2 192.6h11.9v10.0h-11.9zM204.5 192.6h11.9v10.0h-11.9zM215.8 192.6h11.9v10.0h-11.9zM227.2 192.6h11.9v10.0h-11.9zM238.5 192.6h11.9v10.0h-11.9zM249.8 192.6h11.9v10.0h-11.9zM261.1 192.6h11.9v10.0h-11.9zM272.4 192.6h11.9v10.0h-11.9zM283.7 192.6h11.9v10.0h-11.9zM295.1 192.6h11.9v10.0h-11.9zM306.4 192.6h11.9v10.0h-11.9zM317.7 192.6h11.9v10.0h-11.9zM329.0 192.6h11.9v10.0h-11.9zM340.3 192.6h11.9v10.0h-11.9zM351.6 192.6h11.9v10.0h-11.9zM362.9 192.6h11.9v10.0h-11.9zM374.3 192.6h11.9v10.0h-11.9zM385.6 192.6h11.9v10.0h-11.9zM396.9 192.6h11.9v10.0h-11.9zM408.2 192.6h11.9v10.0h-11.9zM419.5 192.6h11.9v10.0h-11.9zM430.8 192.6h11.9v10.0h-11.9zM442.1 192.6h11.9v10.0h-11.9zM453.5 192.6h11.9v10.0h-11.9zM464.8 192.6h11.9v10.0h-11.9zM476.1 192.6h11.9v10.0h-11.9zM487.4 192.6h11.9v10.0h-11.9zM498.7 192.6h11.9v10.0h-11.9zM510.0 192.6h11.9v10.0h-11.9zM521.4 192.6h11.9v10.0h-11.9zM532.7 192.6h11.9v10.0h-11.9zM544.0 192.6h11.9v10.0h-11.9zM555.3 192.6h11.9v10.0h-11.9zM566.6 192.6h11.9v10.0h-11.9zM577.9 192.6h11.9v10.0h-11.9zM589.2 192.6h11.9v10.0h-11.9zM600.6 192.6h11.9v10.0h-11.9zM611.9 192.6h11.9v10.0h-11.9zM623.2 192.6h11.9v10.0h-11.9zM634.5 192.6h11.9v10.0h-11.9zM645.8 192.6h11.9v10.0h-11.9zM657.1 192.6h11.9v10.0h-11.9zM668.5 192.6h11.9v10.0h-11.9zM679.8 192.6h11.9v10.0h-11.9zM691.1 192.6h11.9v10.0h-11.9zM702.4 192.6h11.9v10.0h-11.9zM713.7 192.6h11.9v10.0h-11.9zM725.0 192.6h11.9v10.0h-11.9zM736.3 192.6h11.9v10.0h-11.9zM747.7 192.6h11.9v10.0h-11.9zM102.7 202.0h11.9v10.0h-11.9zM114.0 202.0h11.9v10.0h-11.9zM125.3 202.0h11.9v10.0h-11.9zM136.6 202.0h11.9v10.0h-11.9zM148.0 202.0h11.9v10.0h-11.9zM159.3 202.0h11.9v10.0h-11.9zM170.6 202.0h11.9v10.0h-11.9zM181.9 202.0h11.9v10.0h-11.9zM193.2 202.0h11.9v10.0h-11.9zM204.5 202.0h11.9v10.0h-11.9zM215.8 202.0h11.9v10.0h-11.9zM227.2 202.0h11.9v10.0h-11.9zM238.5 202.0h11.9v10.0h-11.9zM249.8 202.0h11.9v10.0h-11.9zM261.1 202.0h11.9v10.0h-11.9zM272.4 202.0h11.9v10.0h-11.9zM283.7 202.0h11.9v10.0h-11.9zM295.1 202.0h11.9v10.0h-11.9zM306.4 202.0h11.9v10.0h-11.9zM317.7 202.0h11.9v10.0h-11.9zM329.0 202.0h11.9v10.0h-11.9zM340.3 202.0h11.9v10.0h-11.9zM351.6 202.0h11.9v10.0h-11.9zM362.9 202.0h11.9v10.0h-11.9zM374.3 202.0h11.9v10.0h-11.9zM385.6 202.0h11.9v10.0h-11.9zM396.9 202.0h11.9v10.0h-11.9zM408.2 202.0h11.9v10.0h-11.9zM419.5 202.0h11.9v10.0h-11.9zM430.8 202.0h11.9v10.0h-11.9zM442.1 202.0h11.9v10.0h-11.9zM453.5 202.0h11.9v10.0h-11.9zM464.8 202.0h11.9v10.0h-11.9zM476.1 202.0h11.9v10.0h-11.9zM487.4 202.0h11.9v10.0h-11.9zM498.7 202.0h11.9v10.0h-11.9zM510.0 202.0h11.9v10.0h-11.9zM521.4 202.0h11.9v10.0h-11.9zM532.7 202.0h11.9v10.0h-11.9zM544.0 202.0h11.9v10.0h-11.9zM555.3 202.0h11.9v10.0h-11.9zM566.6 202.0h11.9v10.0h-11.9zM577.9 202.0h11.9v10.0h-11.9zM589.2 202.0h11.9v10.0h-11.9zM600.6 202.0h11.9v10.0h-11.9zM611.9 202.0h11.9v10.0h-11.9zM623.2 202.0h11.9v10.0h-11.9zM634.5 202.0h11.9v10.0h-11.9zM645.8 202.0h11.9v10.0h-11.9zM657.1 202.0h11.9v10.0h-11.9zM668.5 202.0h11.9v10.0h-11.9zM679.8 202.0h11.9v10.0h-11.9zM691.1 202.0h11.9v10.0h-11.9zM702.4 202.0h11.9v10.0h-11.9zM713.7 202.0h11.9v10.0h-11.9zM725.0 202.0h11.9v10.0h-11.9zM736.3 202.0h11.9v10.0h-11.9zM747.7 202.0h11.9v10.0h-11.9zM759.0 202.0h11.9v10.0h-11.9zM102.7 211.4h11.9v10.0h-11.9zM114.0 211.4h11.9v10.0h-11.9zM125.3 211.4h11.9v10.0h-11.9zM136.6 211.4h11.9v10.0h-11.9zM148.0 211.4h11.9v10.0h-11.9zM159.3 211.4h11.9v10.0h-11.9zM170.6 211.4h11.9v10.0h-11.9zM181.9 211.4h11.9v10.0h-11.9zM193.2 211.4h11.9v10.0h-11.9zM204.5 211.4h11.9v10.0h-11.9zM215.8 211.4h11.9v10.0h-11.9zM227.2 211.4h11.9v10.0h-11.9zM238.5 211.4h11.9v10.0h-11.9zM249.8 211.4h11.9v10.0h-11.9zM261.1 211.4h11.9v10.0h-11.9zM272.4 211.4h11.9v10.0h-11.9zM283.7 211.4h11.9v10.0h-11.9zM295.1 211.4h11.9v10.0h-11.9zM306.4 211.4h11.9v10.0h-11.9zM317.7 211.4h11.9v10.0h-11.9zM329.0 211.4h11.9v10.0h-11.9zM340.3 211.4h11.9v10.0h-11.9zM351.6 211.4h11.9v10.0h-11.9zM362.9 211.4h11.9v10.0h-11.9zM374.3 211.4h11.9v10.0h-11.9zM385.6 211.4h11.9v10.0h-11.9zM396.9 211.4h11.9v10.0h-11.9zM408.2 211.4h11.9v10.0h-11.9zM419.5 211.4h11.9v10.0h-11.9zM430.8 211.4h11.9v10.0h-11.9zM442.1 211.4h11.9v10.0h-11.9zM453.5 211.4h11.9v10.0h-11.9zM464.8 211.4h11.9v10.0h-11.9zM476.1 211.4h11.9v10.0h-11.9zM487.4 211.4h11.9v10.0h-11.9zM498.7 211.4h11.9v10.0h-11.9zM510.0 211.4h11.9v10.0h-11.9zM521.4 211.4h11.9v10.0h-11.9zM532.7 211.4h11.9v10.0h-11.9zM544.0 211.4h11.9v10.0h-11.9zM555.3 211.4h11.9v10.0h-11.9zM566.6 211.4h11.9v10.0h-11.9zM577.9 211.4h11.9v10.0h-11.9zM589.2 211.4h11.9v10.0h-11.9zM600.6 211.4h11.9v10.0h-11.9zM611.9 211.4h11.9v10.0h-11.9zM623.2 211.4h11.9v10.0h-11.9zM634.5 211.4h11.9v10.0h-11.9zM645.8 211.4h11.9v10.0h-11.9zM657.1 211.4h11.9v10.0h-11.9zM668.5 211.4h11.9v10.0h-11.9zM679.8 211.4h11.9v10.0h-11.9zM691.1 211.4h11.9v10.0h-11.9zM702.4 211.4h11.9v10.0h-11.9zM713.7 211.4h11.9v10.0h-11.9zM725.0 211.4h11.9v10.0h-11.9zM736.3 211.4h11.9v10.0h-11.9zM747.7 211.4h11.9v10.0h-11.9zM759.0 211.4h11.9v10.0h-11.9zM102.7 220.8h11.9v10.0h-11.9zM114.0 220.8h11.9v10.0h-11.9zM125.3 220.8h11.9v10.0h-11.9zM136.6 220.8h11.9v10.0h-11.9zM148.0 220.8h11.9v10.0h-11.9zM159.3 220.8h11.9v10.0h-11.9zM170.6 220.8h11.9v10.0h-11.9zM181.9 220.8h11.9v10.0h-11.9zM193.2 220.8h11.9v10.0h-11.9zM204.5 220.8h11.9v10.0h-11.9zM215.8 220.8h11.9v10.0h-11.9zM227.2 220.8h11.9v10.0h-11.9zM238.5 220.8h11.9v10.0h-11.9zM249.8 220.8h11.9v10.0h-11.9zM261.1 220.8h11.9v10.0h-11.9zM272.4 220.8h11.9v10.0h-11.9zM283.7 220.8h11.9v10.0h-11.9zM295.1 220.8h11.9v10.0h-11.9zM306.4 220.8h11.9v10.0h-11.9zM317.7 220.8h11.9v10.0h-11.9zM329.0 220.8h11.9v10.0h-11.9zM340.3 220.8h11.9v10.0h-11.9zM351.6 220.8h11.9v10.0h-11.9zM362.9 220.8h11.9v10.0h-11.9zM374.3 220.8h11.9v10.0h-11.9zM385.6 220.8h11.9v10.0h-11.9zM396.9 220.8h11.9v10.0h-11.9zM408.2 220.8h11.9v10.0h-11.9zM419.5 220.8h11.9v10.0h-11.9zM430.8 220.8h11.9v10.0h-11.9zM442.1 220.8h11.9v10.0h-11.9zM453.5 220.8h11.9v10.0h-11.9zM464.8 220.8h11.9v10.0h-11.9zM476.1 220.8h11.9v10.0h-11.9zM487.4 220.8h11.9v10.0h-11.9zM498.7 220.8h11.9v10.0h-11.9zM510.0 220.8h11.9v10.0h-11.9zM521.4 220.8h11.9v10.0h-11.9zM532.7 220.8h11.9v10.0h-11.9zM544.0 220.8h11.9v10.0h-11.9zM555.3 220.8h11.9v10.0h-11.9zM566.6 220.8h11.9v10.0h-11.9zM577.9 220.8h11.9v10.0h-11.9zM589.2 220.8h11.9v10.0h-11.9zM600.6 220.8h11.9v10.0h-11.9zM611.9 220.8h11.9v10.0h-11.9zM623.2 220.8h11.9v10.0h-11.9zM634.5 220.8h11.9v10.0h-11.9zM645.8 220.8h11.9v10.0h-11.9zM657.1 220.8h11.9v10.0h-11.9zM668.5 220.8h11.9v10.0h-11.9zM679.8 220.8h11.9v10.0h-11.9zM691.1 220.8h11.9v10.0h-11.9zM702.4 220.8h11.9v10.0h-11.9zM713.7 220.8h11.9v10.0h-11.9zM725.0 220.8h11.9v10.0h-11.9zM736.3 220.8h11.9v10.0h-11.9zM747.7 220.8h11.9v10.0h-11.9zM759.0 220.8h11.9v10.0h-11.9zM102.7 230.2h11.9v10.0h-11.9zM114.0 230.2h11.9v10.0h-11.9zM125.3 230.2h11.9v10.0h-11.9zM136.6 230.2h11.9v10.0h-11.9zM148.0 230.2h11.9v10.0h-11.9zM159.3 230.2h11.9v10.0h-11.9zM170.6 230.2h11.9v10.0h-11.9zM181.9 230.2h11.9v10.0h-11.9zM193.2 230.2h11.9v10.0h-11.9zM204.5 230.2h11.9v10.0h-11.9zM215.8 230.2h11.9v10.0h-11.9zM227.2 230.2h11.9v10.0h-11.9zM238.5 230.2h11.9v10.0h-11.9zM249.8 230.2h11.9v10.0h-11.9zM261.1 230.2h11.9v10.0h-11.9zM272.4 230.2h11.9v10.0h-11.9zM283.7 230.2h11.9v10.0h-11.9zM295.1 230.2h11.9v10.0h-11.9zM306.4 230.2h11.9v10.0h-11.9zM317.7 230.2h11.9v10.0h-11.9zM329.0 230.2h11.9v10.0h-11.9zM340.3 230.2h11.9v10.0h-11.9zM351.6 230.2h11.9v10.0h-11.9zM362.9 230.2h11.9v10.0h-11.9zM374.3 230.2h11.9v10.0h-11.9zM385.6 230.2h11.9v10.0h-11.9zM396.9 230.2h11.9v10.0h-11.9zM408.2 230.2h11.9v10.0h-11.9zM419.5 230.2h11.9v10.0h-11.9zM430.8 230.2h11.9v10.0h-11.9zM442.1 230.2h11.9v10.0h-11.9zM453.5 230.2h11.9v10.0h-11.9zM464.8 230.2h11.9v10.0h-11.9zM476.1 230.2h11.9v10.0h-11.9zM487.4 230.2h11.9v10.0h-11.9zM498.7 230.2h11.9v10.0h-11.9zM510.0 230.2h11.9v10.0h-11.9zM521.4 230.2h11.9v10.0h-11.9zM532.7 230.2h11.9v10.0h-11.9zM544.0 230.2h11.9v10.0h-11.9zM555.3 230.2h11.9v10.0h-11.9zM566.6 230.2h11.9v10.0h-11.9zM577.9 230.2h11.9v10.0h-11.9zM589.2 230.2h11.9v10.0h-11.9zM600.6 230.2h11.9v10.0h-11.9zM611.9 230.2h11.9v10.0h-11.9zM623.2 230.2h11.9v10.0h-11.9zM634.5 230.2h11.9v10.0h-11.9zM645.8 230.2h11.9v10.0h-11.9zM657.1 230.2h11.9v10.0h-11.9zM668.5 230.2h11.9v10.0h-11.9zM679.8 230.2h11.9v10.0h-11.9zM691.1 230.2h11.9v10.0h-11.9zM702.4 230.2h11.9v10.0h-11.9zM713.7 230.2h11.9v10.0h-11.9zM725.0 230.2h11.9v10.0h-11.9zM736.3 230.2h11.9v10.0h-11.9zM747.7 230.2h11.9v10.0h-11.9zM759.0 230.2h11.9v10.0h-11.9zM102.7 239.6h11.9v10.0h-11.9zM114.0 239.6h11.9v10.0h-11.9zM125.3 239.6h11.9v10.0h-11.9zM136.6 239.6h11.9v10.0h-11.9zM148.0 239.6h11.9v10.0h-11.9zM159.3 239.6h11.9v10.0h-11.9zM170.6 239.6h11.9v10.0h-11.9zM181.9 239.6h11.9v10.0h-11.9zM193.2 239.6h11.9v10.0h-11.9zM204.5 239.6h11.9v10.0h-11.9zM215.8 239.6h11.9v10.0h-11.9zM227.2 239.6h11.9v10.0h-11.9zM238.5 239.6h11.9v10.0h-11.9zM249.8 239.6h11.9v10.0h-11.9zM261.1 239.6h11.9v10.0h-11.9zM272.4 239.6h11.9v10.0h-11.9zM283.7 239.6h11.9v10.0h-11.9zM295.1 239.6h11.9v10.0h-11.9zM306.4 239.6h11.9v10.0h-11.9zM317.7 239.6h11.9v10.0h-11.9zM329.0 239.6h11.9v10.0h-11.9zM340.3 239.6h11.9v10.0h-11.9zM351.6 239.6h11.9v10.0h-11.9zM362.9 239.6h11.9v10.0h-11.9zM374.3 239.6h11.9v10.0h-11.9zM385.6 239.6h11.9v10.0h-11.9zM396.9 239.6h11.9v10.0h-11.9zM408.2 239.6h11.9v10.0h-11.9zM419.5 239.6h11.9v10.0h-11.9zM430.8 239.6h11.9v10.0h-11.9zM442.1 239.6h11.9v10.0h-11.9zM453.5 239.6h11.9v10.0h-11.9zM464.8 239.6h11.9v10.0h-11.9zM476.1 239.6h11.9v10.0h-11.9zM487.4 239.6h11.9v10.0h-11.9zM498.7 239.6h11.9v10.0h-11.9zM510.0 239.6h11.9v10.0h-11.9zM521.4 239.6h11.9v10.0h-11.9zM532.7 239.6h11.9v10.0h-11.9zM544.0 239.6h11.9v10.0h-11.9zM555.3 239.6h11.9v10.0h-11.9zM566.6 239.6h11.9v10.0h-11.9zM577.9 239.6h11.9v10.0h-11.9zM589.2 239.6h11.9v10.0h-11.9zM600.6 239.6h11.9v10.0h-11.9zM611.9 239.6h11.9v10.0h-11.9zM623.2 239.6h11.9v10.0h-11.9zM634.5 239.6h11.9v10.0h-11.9zM645.8 239.6h11.9v10.0h-11.9zM657.1 239.6h11.9v10.0h-11.9zM668.5 239.6h11.9v10.0h-11.9zM679.8 239.6h11.9v10.0h-11.9zM691.1 239.6h11.9v10.0h-11.9zM702.4 239.6h11.9v10.0h-11.9zM713.7 239.6h11.9v10.0h-11.9zM725.0 239.6h11.9v10.0h-11.9zM736.3 239.6h11.9v10.0h-11.9zM747.7 239.6h11.9v10.0h-11.9zM759.0 239.6h11.9v10.0h-11.9zM102.7 249.0h11.9v10.0h-11.9zM114.0 249.0h11.9v10.0h-11.9zM125.3 249.0h11.9v10.0h-11.9zM136.6 249.0h11.9v10.0h-11.9zM148.0 249.0h11.9v10.0h-11.9zM159.3 249.0h11.9v10.0h-11.9zM170.6 249.0h11.9v10.0h-11.9zM181.9 249.0h11.9v10.0h-11.9zM193.2 249.0h11.9v10.0h-11.9zM204.5 249.0h11.9v10.0h-11.9zM215.8 249.0h11.9v10.0h-11.9zM227.2 249.0h11.9v10.0h-11.9zM238.5 249.0h11.9v10.0h-11.9zM249.8 249.0h11.9v10.0h-11.9zM261.1 249.0h11.9v10.0h-11.9zM272.4 249.0h11.9v10.0h-11.9zM283.7 249.0h11.9v10.0h-11.9zM295.1 249.0h11.9v10.0h-11.9zM306.4 249.0h11.9v10.0h-11.9zM317.7 249.0h11.9v10.0h-11.9zM329.0 249.0h11.9v10.0h-11.9zM340.3 249.0h11.9v10.0h-11.9zM351.6 249.0h11.9v10.0h-11.9zM362.9 249.0h11.9v10.0h-11.9zM374.3 249.0h11.9v10.0h-11.9zM385.6 249.0h11.9v10.0h-11.9zM396.9 249.0h11.9v10.0h-11.9zM408.2 249.0h11.9v10.0h-11.9zM419.5 249.0h11.9v10.0h-11.9zM430.8 249.0h11.9v10.0h-11.9zM442.1 249.0h11.9v10.0h-11.9zM453.5 249.0h11.9v10.0h-11.9zM464.8 249.0h11.9v10.0h-11.9zM476.1 249.0h11.9v10.0h-11.9zM487.4 249.0h11.9v10.0h-11.9zM498.7 249.0h11.9v10.0h-11.9zM510.0 249.0h11.9v10.0h-11.9zM521.4 249.0h11.9v10.0h-11.9zM532.7 249.0h11.9v10.0h-11.9zM544.0 249.0h11.9v10.0h-11.9zM555.3 249.0h11.9v10.0h-11.9zM566.6 249.0h11.9v10.0h-11.9zM577.9 249.0h11.9v10.0h-11.9zM589.2 249.0h11.9v10.0h-11.9zM600.6 249.0h11.9v10.0h-11.9zM611.9 249.0h11.9v10.0h-11.9zM623.2 249.0h11.9v10.0h-11.9zM634.5 249.0h11.9v10.0h-11.9zM645.8 249.0h11.9v10.0h-11.9zM657.1 249.0h11.9v10.0h-11.9zM668.5 249.0h11.9v10.0h-11.9zM679.8 249.0h11.9v10.0h-11.9zM691.1 249.0h11.9v10.0h-11.9zM702.4 249.0h11.9v10.0h-11.9zM713.7 249.0h11.9v10.0h-11.9zM725.0 249.0h11.9v10.0h-11.9zM736.3 249.0h11.9v10.0h-11.9zM747.7 249.0h11.9v10.0h-11.9zM759.0 249.0h11.9v10.0h-11.9zM102.7 258.4h11.9v10.0h-11.9zM114.0 258.4h11.9v10.0h-11.9zM125.3 258.4h11.9v10.0h-11.9zM136.6 258.4h11.9v10.0h-11.9zM148.0 258.4h11.9v10.0h-11.9zM159.3 258.4h11.9v10.0h-11.9zM170.6 258.4h11.9v10.0h-11.9zM181.9 258.4h11.9v10.0h-11.9zM193.2 258.4h11.9v10.0h-11.9zM204.5 258.4h11.9v10.0h-11.9zM215.8 258.4h11.9v10.0h-11.9zM227.2 258.4h11.9v10.0h-11.9zM238.5 258.4h11.9v10.0h-11.9zM249.8 258.4h11.9v10.0h-11.9zM261.1 258.4h11.9v10.0h-11.9zM272.4 258.4h11.9v10.0h-11.9zM283.7 258.4h11.9v10.0h-11.9zM295.1 258.4h11.9v10.0h-11.9zM306.4 258.4h11.9v10.0h-11.9zM317.7 258.4h11.9v10.0h-11.9zM329.0 258.4h11.9v10.0h-11.9zM340.3 258.4h11.9v10.0h-11.9zM351.6 258.4h11.9v10.0h-11.9zM362.9 258.4h11.9v10.0h-11.9zM374.3 258.4h11.9v10.0h-11.9zM385.6 258.4h11.9v10.0h-11.9zM396.9 258.4h11.9v10.0h-11.9zM408.2 258.4h11.9v10.0h-11.9zM419.5 258.4h11.9v10.0h-11.9zM430.8 258.4h11.9v10.0h-11.9zM442.1 258.4h11.9v10.0h-11.9zM453.5 258.4h11.9v10.0h-11.9zM464.8 258.4h11.9v10.0h-11.9zM476.1 258.4h11.9v10.0h-11.9zM487.4 258.4h11.9v10.0h-11.9zM498.7 258.4h11.9v10.0h-11.9zM510.0 258.4h11.9v10.0h-11.9zM521.4 258.4h11.9v10.0h-11.9zM532.7 258.4h11.9v10.0h-11.9zM544.0 258.4h11.9v10.0h-11.9zM555.3 258.4h11.9v10.0h-11.9zM566.6 258.4h11.9v10.0h-11.9zM577.9 258.4h11.9v10.0h-11.9zM589.2 258.4h11.9v10.0h-11.9zM600.6 258.4h11.9v10.0h-11.9zM611.9 258.4h11.9v10.0h-11.9zM623.2 258.4h11.9v10.0h-11.9zM634.5 258.4h11.9v10.0h-11.9zM645.8 258.4h11.9v10.0h-11.9zM657.1 258.4h11.9v10.0h-11.9zM668.5 258.4h11.9v10.0h-11.9zM679.8 258.4h11.9v10.0h-11.9zM691.1 258.4h11.9v10.0h-11.9zM702.4 258.4h11.9v10.0h-11.9zM713.7 258.4h11.9v10.0h-11.9zM725.0 258.4h11.9v10.0h-11.9zM736.3 258.4h11.9v10.0h-11.9zM747.7 258.4h11.9v10.0h-11.9zM759.0 258.4h11.9v10.0h-11.9zM102.7 267.8h11.9v10.0h-11.9zM114.0 267.8h11.9v10.0h-11.9zM125.3 267.8h11.9v10.0h-11.9zM136.6 267.8h11.9v10.0h-11.9zM148.0 267.8h11.9v10.0h-11.9zM159.3 267.8h11.9v10.0h-11.9zM170.6 267.8h11.9v10.0h-11.9zM181.9 267.8h11.9v10.0h-11.9zM193.2 267.8h11.9v10.0h-11.9zM204.5 267.8h11.9v10.0h-11.9zM215.8 267.8h11.9v10.0h-11.9zM227.2 267.8h11.9v10.0h-11.9zM238.5 267.8h11.9v10.0h-11.9zM249.8 267.8h11.9v10.0h-11.9zM261.1 267.8h11.9v10.0h-11.9zM272.4 267.8h11.9v10.0h-11.9zM283.7 267.8h11.9v10.0h-11.9zM295.1 267.8h11.9v10.0h-11.9zM306.4 267.8h11.9v10.0h-11.9zM317.7 267.8h11.9v10.0h-11.9zM329.0 267.8h11.9v10.0h-11.9zM340.3 267.8h11.9v10.0h-11.9zM351.6 267.8h11.9v10.0h-11.9zM362.9 267.8h11.9v10.0h-11.9zM374.3 267.8h11.9v10.0h-11.9zM385.6 267.8h11.9v10.0h-11.9zM396.9 267.8h11.9v10.0h-11.9zM408.2 267.8h11.9v10.0h-11.9zM419.5 267.8h11.9v10.0h-11.9zM430.8 267.8h11.9v10.0h-11.9zM442.1 267.8h11.9v10.0h-11.9zM453.5 267.8h11.9v10.0h-11.9zM464.8 267.8h11.9v10.0h-11.9zM476.1 267.8h11.9v10.0h-11.9zM487.4 267.8h11.9v10.0h-11.9zM498.7 267.8h11.9v10.0h-11.9zM510.0 267.8h11.9v10.0h-11.9zM521.4 267.8h11.9v10.0h-11.9zM532.7 267.8h11.9v10.0h-11.9zM544.0 267.8h11.9v10.0h-11.9zM555.3 267.8h11.9v10.0h-11.9zM566.6 267.8h11.9v10.0h-11.9zM577.9 267.8h11.9v10.0h-11.9zM589.2 267.8h11.9v10.0h-11.9zM600.6 267.8h11.9v10.0h-11.9zM611.9 267.8h11.9v10.0h-11.9zM623.2 267.8h11.9v10.0h-11.9zM634.5 267.8h11.9v10.0h-11.9zM645.8 267.8h11.9v10.0h-11.9zM657.1 267.8h11.9v10.0h-11.9zM668.5 267.8h11.9v10.0h-11.9zM679.8 267.8h11.9v10.0h-11.9zM691.1 267.8h11.9v10.0h-11.9zM702.4 267.8h11.9v10.0h-11.9zM713.7 267.8h11.9v10.0h-11.9zM725.0 267.8h11.9v10.0h-11.9zM736.3 267.8h11.9v10.0h-11.9zM747.7 267.8h11.9v10.0h-11.9zM759.0 267.8h11.9v10.0h-11.9zM102.7 277.1h11.9v10.0h-11.9zM114.0 277.1h11.9v10.0h-11.9zM125.3 277.1h11.9v10.0h-11.9zM136.6 277.1h11.9v10.0h-11.9zM148.0 277.1h11.9v10.0h-11.9zM159.3 277.1h11.9v10.0h-11.9zM170.6 277.1h11.9v10.0h-11.9zM181.9 277.1h11.9v10.0h-11.9zM193.2 277.1h11.9v10.0h-11.9zM204.5 277.1h11.9v10.0h-11.9zM215.8 277.1h11.9v10.0h-11.9zM227.2 277.1h11.9v10.0h-11.9zM238.5 277.1h11.9v10.0h-11.9zM249.8 277.1h11.9v10.0h-11.9zM261.1 277.1h11.9v10.0h-11.9zM272.4 277.1h11.9v10.0h-11.9zM283.7 277.1h11.9v10.0h-11.9zM295.1 277.1h11.9v10.0h-11.9zM306.4 277.1h11.9v10.0h-11.9zM317.7 277.1h11.9v10.0h-11.9zM329.0 277.1h11.9v10.0h-11.9zM340.3 277.1h11.9v10.0h-11.9zM351.6 277.1h11.9v10.0h-11.9zM362.9 277.1h11.9v10.0h-11.9zM374.3 277.1h11.9v10.0h-11.9zM385.6 277.1h11.9v10.0h-11.9zM396.9 277.1h11.9v10.0h-11.9zM408.2 277.1h11.9v10.0h-11.9zM419.5 277.1h11.9v10.0h-11.9zM430.8 277.1h11.9v10.0h-11.9zM442.1 277.1h11.9v10.0h-11.9zM453.5 277.1h11.9v10.0h-11.9zM464.8 277.1h11.9v10.0h-11.9zM476.1 277.1h11.9v10.0h-11.9zM487.4 277.1h11.9v10.0h-11.9zM498.7 277.1h11.9v10.0h-11.9zM510.0 277.1h11.9v10.0h-11.9zM521.4 277.1h11.9v10.0h-11.9zM532.7 277.1h11.9v10.0h-11.9zM544.0 277.1h11.9v10.0h-11.9zM555.3 277.1h11.9v10.0h-11.9zM566.6 277.1h11.9v10.0h-11.9zM577.9 277.1h11.9v10.0h-11.9zM589.2 277.1h11.9v10.0h-11.9zM600.6 277.1h11.9v10.0h-11.9zM611.9 277.1h11.9v10.0h-11.9zM623.2 277.1h11.9v10.0h-11.9zM634.5 277.1h11.9v10.0h-11.9zM645.8 277.1h11.9v10.0h-11.9zM657.1 277.1h11.9v10.0h-11.9zM668.5 277.1h11.9v10.0h-11.9zM679.8 277.1h11.9v10.0h-11.9zM691.1 277.1h11.9v10.0h-11.9zM702.4 277.1h11.9v10.0h-11.9zM713.7 277.1h11.9v10.0h-11.9zM725.0 277.1h11.9v10.0h-11.9zM736.3 277.1h11.9v10.0h-11.9zM747.7 277.1h11.9v10.0h-11.9zM759.0 277.1h11.9v10.0h-11.9zM102.7 286.5h11.9v10.0h-11.9zM114.0 286.5h11.9v10.0h-11.9zM125.3 286.5h11.9v10.0h-11.9zM136.6 286.5h11.9v10.0h-11.9zM148.0 286.5h11.9v10.0h-11.9zM159.3 286.5h11.9v10.0h-11.9zM170.6 286.5h11.9v10.0h-11.9zM181.9 286.5h11.9v10.0h-11.9zM193.2 286.5h11.9v10.0h-11.9zM204.5 286.5h11.9v10.0h-11.9zM215.8 286.5h11.9v10.0h-11.9zM227.2 286.5h11.9v10.0h-11.9zM238.5 286.5h11.9v10.0h-11.9zM249.8 286.5h11.9v10.0h-11.9zM261.1 286.5h11.9v10.0h-11.9zM272.4 286.5h11.9v10.0h-11.9zM283.7 286.5h11.9v10.0h-11.9zM295.1 286.5h11.9v10.0h-11.9zM306.4 286.5h11.9v10.0h-11.9zM317.7 286.5h11.9v10.0h-11.9zM329.0 286.5h11.9v10.0h-11.9zM340.3 286.5h11.9v10.0h-11.9zM351.6 286.5h11.9v10.0h-11.9zM362.9 286.5h11.9v10.0h-11.9zM374.3 286.5h11.9v10.0h-11.9zM385.6 286.5h11.9v10.0h-11.9zM396.9 286.5h11.9v10.0h-11.9zM408.2 286.5h11.9v10.0h-11.9zM419.5 286.5h11.9v10.0h-11.9zM430.8 286.5h11.9v10.0h-11.9zM442.1 286.5h11.9v10.0h-11.9zM453.5 286.5h11.9v10.0h-11.9zM464.8 286.5h11.9v10.0h-11.9zM476.1 286.5h11.9v10.0h-11.9zM487.4 286.5h11.9v10.0h-11.9zM498.7 286.5h11.9v10.0h-11.9zM510.0 286.5h11.9v10.0h-11.9zM521.4 286.5h11.9v10.0h-11.9zM532.7 286.5h11.9v10.0h-11.9zM544.0 286.5h11.9v10.0h-11.9zM555.3 286.5h11.9v10.0h-11.9zM566.6 286.5h11.9v10.0h-11.9zM577.9 286.5h11.9v10.0h-11.9zM589.2 286.5h11.9v10.0h-11.9zM600.6 286.5h11.9v10.0h-11.9zM611.9 286.5h11.9v10.0h-11.9zM623.2 286.5h11.9v10.0h-11.9zM634.5 286.5h11.9v10.0h-11.9zM645.8 286.5h11.9v10.0h-11.9zM657.1 286.5h11.9v10.0h-11.9zM668.5 286.5h11.9v10.0h-11.9zM679.8 286.5h11.9v10.0h-11.9zM691.1 286.5h11.9v10.0h-11.9zM702.4 286.5h11.9v10.0h-11.9zM713.7 286.5h11.9v10.0h-11.9zM725.0 286.5h11.9v10.0h-11.9zM736.3 286.5h11.9v10.0h-11.9zM747.7 286.5h11.9v10.0h-11.9zM759.0 286.5h11.9v10.0h-11.9zM114.0 295.9h11.9v10.0h-11.9zM125.3 295.9h11.9v10.0h-11.9zM136.6 295.9h11.9v10.0h-11.9zM148.0 295.9h11.9v10.0h-11.9zM159.3 295.9h11.9v10.0h-11.9zM170.6 295.9h11.9v10.0h-11.9zM181.9 295.9h11.9v10.0h-11.9zM193.2 295.9h11.9v10.0h-11.9zM204.5 295.9h11.9v10.0h-11.9zM215.8 295.9h11.9v10.0h-11.9zM227.2 295.9h11.9v10.0h-11.9zM238.5 295.9h11.9v10.0h-11.9zM249.8 295.9h11.9v10.0h-11.9zM261.1 295.9h11.9v10.0h-11.9zM272.4 295.9h11.9v10.0h-11.9zM283.7 295.9h11.9v10.0h-11.9zM295.1 295.9h11.9v10.0h-11.9zM306.4 295.9h11.9v10.0h-11.9zM317.7 295.9h11.9v10.0h-11.9zM329.0 295.9h11.9v10.0h-11.9zM340.3 295.9h11.9v10.0h-11.9zM351.6 295.9h11.9v10.0h-11.9zM362.9 295.9h11.9v10.0h-11.9zM374.3 295.9h11.9v10.0h-11.9zM385.6 295.9h11.9v10.0h-11.9zM396.9 295.9h11.9v10.0h-11.9zM408.2 295.9h11.9v10.0h-11.9zM419.5 295.9h11.9v10.0h-11.9zM430.8 295.9h11.9v10.0h-11.9zM442.1 295.9h11.9v10.0h-11.9zM453.5 295.9h11.9v10.0h-11.9zM464.8 295.9h11.9v10.0h-11.9zM476.1 295.9h11.9v10.0h-11.9zM487.4 295.9h11.9v10.0h-11.9zM498.7 295.9h11.9v10.0h-11.9zM510.0 295.9h11.9v10.0h-11.9zM521.4 295.9h11.9v10.0h-11.9zM532.7 295.9h11.9v10.0h-11.9zM544.0 295.9h11.9v10.0h-11.9zM555.3 295.9h11.9v10.0h-11.9zM566.6 295.9h11.9v10.0h-11.9zM577.9 295.9h11.9v10.0h-11.9zM589.2 295.9h11.9v10.0h-11.9zM600.6 295.9h11.9v10.0h-11.9zM611.9 295.9h11.9v10.0h-11.9zM623.2 295.9h11.9v10.0h-11.9zM634.5 295.9h11.9v10.0h-11.9zM645.8 295.9h11.9v10.0h-11.9zM657.1 295.9h11.9v10.0h-11.9zM668.5 295.9h11.9v10.0h-11.9zM679.8 295.9h11.9v10.0h-11.9zM691.1 295.9h11.9v10.0h-11.9zM702.4 295.9h11.9v10.0h-11.9zM713.7 295.9h11.9v10.0h-11.9zM725.0 295.9h11.9v10.0h-11.9zM736.3 295.9h11.9v10.0h-11.9zM747.7 295.9h11.9v10.0h-11.9zM114.0 305.3h11.9v10.0h-11.9zM125.3 305.3h11.9v10.0h-11.9zM136.6 305.3h11.9v10.0h-11.9zM148.0 305.3h11.9v10.0h-11.9zM159.3 305.3h11.9v10.0h-11.9zM170.6 305.3h11.9v10.0h-11.9zM181.9 305.3h11.9v10.0h-11.9zM193.2 305.3h11.9v10.0h-11.9zM204.5 305.3h11.9v10.0h-11.9zM215.8 305.3h11.9v10.0h-11.9zM227.2 305.3h11.9v10.0h-11.9zM238.5 305.3h11.9v10.0h-11.9zM249.8 305.3h11.9v10.0h-11.9zM261.1 305.3h11.9v10.0h-11.9zM272.4 305.3h11.9v10.0h-11.9zM283.7 305.3h11.9v10.0h-11.9zM295.1 305.3h11.9v10.0h-11.9zM306.4 305.3h11.9v10.0h-11.9zM317.7 305.3h11.9v10.0h-11.9zM329.0 305.3h11.9v10.0h-11.9zM340.3 305.3h11.9v10.0h-11.9zM351.6 305.3h11.9v10.0h-11.9zM362.9 305.3h11.9v10.0h-11.9zM374.3 305.3h11.9v10.0h-11.9zM385.6 305.3h11.9v10.0h-11.9zM396.9 305.3h11.9v10.0h-11.9zM408.2 305.3h11.9v10.0h-11.9zM419.5 305.3h11.9v10.0h-11.9zM430.8 305.3h11.9v10.0h-11.9zM442.1 305.3h11.9v10.0h-11.9zM453.5 305.3h11.9v10.0h-11.9zM464.8 305.3h11.9v10.0h-11.9zM476.1 305.3h11.9v10.0h-11.9zM487.4 305.3h11.9v10.0h-11.9zM498.7 305.3h11.9v10.0h-11.9zM510.0 305.3h11.9v10.0h-11.9zM521.4 305.3h11.9v10.0h-11.9zM532.7 305.3h11.9v10.0h-11.9zM544.0 305.3h11.9v10.0h-11.9zM555.3 305.3h11.9v10.0h-11.9zM566.6 305.3h11.9v10.0h-11.9zM577.9 305.3h11.9v10.0h-11.9zM589.2 305.3h11.9v10.0h-11.9zM600.6 305.3h11.9v10.0h-11.9zM611.9 305.3h11.9v10.0h-11.9zM623.2 305.3h11.9v10.0h-11.9zM634.5 305.3h11.9v10.0h-11.9zM645.8 305.3h11.9v10.0h-11.9zM657.1 305.3h11.9v10.0h-11.9zM668.5 305.3h11.9v10.0h-11.9zM679.8 305.3h11.9v10.0h-11.9zM691.1 305.3h11.9v10.0h-11.9zM702.4 305.3h11.9v10.0h-11.9zM713.7 305.3h11.9v10.0h-11.9zM725.0 305.3h11.9v10.0h-11.9zM736.3 305.3h11.9v10.0h-11.9zM747.7 305.3h11.9v10.0h-11.9zM114.0 314.7h11.9v10.0h-11.9zM125.3 314.7h11.9v10.0h-11.9zM136.6 314.7h11.9v10.0h-11.9zM148.0 314.7h11.9v10.0h-11.9zM159.3 314.7h11.9v10.0h-11.9zM170.6 314.7h11.9v10.0h-11.9zM181.9 314.7h11.9v10.0h-11.9zM193.2 314.7h11.9v10.0h-11.9zM204.5 314.7h11.9v10.0h-11.9zM215.8 314.7h11.9v10.0h-11.9zM227.2 314.7h11.9v10.0h-11.9zM238.5 314.7h11.9v10.0h-11.9zM249.8 314.7h11.9v10.0h-11.9zM261.1 314.7h11.9v10.0h-11.9zM272.4 314.7h11.9v10.0h-11.9zM283.7 314.7h11.9v10.0h-11.9zM295.1 314.7h11.9v10.0h-11.9zM306.4 314.7h11.9v10.0h-11.9zM317.7 314.7h11.9v10.0h-11.9zM329.0 314.7h11.9v10.0h-11.9zM340.3 314.7h11.9v10.0h-11.9zM351.6 314.7h11.9v10.0h-11.9zM362.9 314.7h11.9v10.0h-11.9zM374.3 314.7h11.9v10.0h-11.9zM385.6 314.7h11.9v10.0h-11.9zM396.9 314.7h11.9v10.0h-11.9zM408.2 314.7h11.9v10.0h-11.9zM419.5 314.7h11.9v10.0h-11.9zM430.8 314.7h11.9v10.0h-11.9zM442.1 314.7h11.9v10.0h-11.9zM453.5 314.7h11.9v10.0h-11.9zM464.8 314.7h11.9v10.0h-11.9zM476.1 314.7h11.9v10.0h-11.9zM487.4 314.7h11.9v10.0h-11.9zM498.7 314.7h11.9v10.0h-11.9zM510.0 314.7h11.9v10.0h-11.9zM521.4 314.7h11.9v10.0h-11.9zM532.7 314.7h11.9v10.0h-11.9zM544.0 314.7h11.9v10.0h-11.9zM555.3 314.7h11.9v10.0h-11.9zM566.6 314.7h11.9v10.0h-11.9zM577.9 314.7h11.9v10.0h-11.9zM589.2 314.7h11.9v10.0h-11.9zM600.6 314.7h11.9v10.0h-11.9zM611.9 314.7h11.9v10.0h-11.9zM623.2 314.7h11.9v10.0h-11.9zM634.5 314.7h11.9v10.0h-11.9zM645.8 314.7h11.9v10.0h-11.9zM657.1 314.7h11.9v10.0h-11.9zM668.5 314.7h11.9v10.0h-11.9zM679.8 314.7h11.9v10.0h-11.9zM691.1 314.7h11.9v10.0h-11.9zM702.4 314.7h11.9v10.0h-11.9zM713.7 314.7h11.9v10.0h-11.9zM725.0 314.7h11.9v10.0h-11.9zM736.3 314.7h11.9v10.0h-11.9zM747.7 314.7h11.9v10.0h-11.9zM125.3 324.1h11.9v10.0h-11.9zM136.6 324.1h11.9v10.0h-11.9zM148.0 324.1h11.9v10.0h-11.9zM159.3 324.1h11.9v10.0h-11.9zM170.6 324.1h11.9v10.0h-11.9zM181.9 324.1h11.9v10.0h-11.9zM193.2 324.1h11.9v10.0h-11.9zM204.5 324.1h11.9v10.0h-11.9zM215.8 324.1h11.9v10.0h-11.9zM227.2 324.1h11.9v10.0h-11.9zM238.5 324.1h11.9v10.0h-11.9zM249.8 324.1h11.9v10.0h-11.9zM261.1 324.1h11.9v10.0h-11.9zM272.4 324.1h11.9v10.0h-11.9zM283.7 324.1h11.9v10.0h-11.9zM295.1 324.1h11.9v10.0h-11.9zM306.4 324.1h11.9v10.0h-11.9zM317.7 324.1h11.9v10.0h-11.9zM329.0 324.1h11.9v10.0h-11.9zM340.3 324.1h11.9v10.0h-11.9zM351.6 324.1h11.9v10.0h-11.9zM362.9 324.1h11.9v10.0h-11.9zM374.3 324.1h11.9v10.0h-11.9zM385.6 324.1h11.9v10.0h-11.9zM396.9 324.1h11.9v10.0h-11.9zM408.2 324.1h11.9v10.0h-11.9zM419.5 324.1h11.9v10.0h-11.9zM430.8 324.1h11.9v10.0h-11.9zM442.1 324.1h11.9v10.0h-11.9zM453.5 324.1h11.9v10.0h-11.9zM464.8 324.1h11.9v10.0h-11.9zM476.1 324.1h11.9v10.0h-11.9zM487.4 324.1h11.9v10.0h-11.9zM498.7 324.1h11.9v10.0h-11.9zM510.0 324.1h11.9v10.0h-11.9zM521.4 324.1h11.9v10.0h-11.9zM532.7 324.1h11.9v10.0h-11.9zM544.0 324.1h11.9v10.0h-11.9zM555.3 324.1h11.9v10.0h-11.9zM566.6 324.1h11.9v10.0h-11.9zM577.9 324.1h11.9v10.0h-11.9zM589.2 324.1h11.9v10.0h-11.9zM600.6 324.1h11.9v10.0h-11.9zM611.9 324.1h11.9v10.0h-11.9zM623.2 324.1h11.9v10.0h-11.9zM634.5 324.1h11.9v10.0h-11.9zM645.8 324.1h11.9v10.0h-11.9zM657.1 324.1h11.9v10.0h-11.9zM668.5 324.1h11.9v10.0h-11.9zM679.8 324.1h11.9v10.0h-11.9zM691.1 324.1h11.9v10.0h-11.9zM702.4 324.1h11.9v10.0h-11.9zM713.7 324.1h11.9v10.0h-11.9zM725.0 324.1h11.9v10.0h-11.9zM736.3 324.1h11.9v10.0h-11.9zM136.6 333.5h11.9v10.0h-11.9zM148.0 333.5h11.9v10.0h-11.9zM159.3 333.5h11.9v10.0h-11.9zM170.6 333.5h11.9v10.0h-11.9zM181.9 333.5h11.9v10.0h-11.9zM193.2 333.5h11.9v10.0h-11.9zM204.5 333.5h11.9v10.0h-11.9zM215.8 333.5h11.9v10.0h-11.9zM227.2 333.5h11.9v10.0h-11.9zM238.5 333.5h11.9v10.0h-11.9zM249.8 333.5h11.9v10.0h-11.9zM261.1 333.5h11.9v10.0h-11.9zM272.4 333.5h11.9v10.0h-11.9zM283.7 333.5h11.9v10.0h-11.9zM295.1 333.5h11.9v10.0h-11.9zM306.4 333.5h11.9v10.0h-11.9zM317.7 333.5h11.9v10.0h-11.9zM329.0 333.5h11.9v10.0h-11.9zM340.3 333.5h11.9v10.0h-11.9zM351.6 333.5h11.9v10.0h-11.9zM362.9 333.5h11.9v10.0h-11.9zM374.3 333.5h11.9v10.0h-11.9zM385.6 333.5h11.9v10.0h-11.9zM396.9 333.5h11.9v10.0h-11.9zM408.2 333.5h11.9v10.0h-11.9zM419.5 333.5h11.9v10.0h-11.9zM430.8 333.5h11.9v10.0h-11.9zM442.1 333.5h11.9v10.0h-11.9zM453.5 333.5h11.9v10.0h-11.9zM464.8 333.5h11.9v10.0h-11.9zM476.1 333.5h11.9v10.0h-11.9zM487.4 333.5h11.9v10.0h-11.9zM498.7 333.5h11.9v10.0h-11.9zM510.0 333.5h11.9v10.0h-11.9zM521.4 333.5h11.9v10.0h-11.9zM532.7 333.5h11.9v10.0h-11.9zM544.0 333.5h11.9v10.0h-11.9zM555.3 333.5h11.9v10.0h-11.9zM566.6 333.5h11.9v10.0h-11.9zM577.9 333.5h11.9v10.0h-11.9zM589.2 333.5h11.9v10.0h-11.9zM600.6 333.5h11.9v10.0h-11.9zM611.9 333.5h11.9v10.0h-11.9zM623.2 333.5h11.9v10.0h-11.9zM634.5 333.5h11.9v10.0h-11.9zM645.8 333.5h11.9v10.0h-11.9zM657.1 333.5h11.9v10.0h-11.9zM668.5 333.5h11.9v10.0h-11.9zM679.8 333.5h11.9v10.0h-11.9zM691.1 333.5h11.9v10.0h-11.9zM702.4 333.5h11.9v10.0h-11.9zM713.7 333.5h11.9v10.0h-11.9zM725.0 333.5h11.9v10.0h-11.9zM136.6 342.9h11.9v10.0h-11.9zM148.0 342.9h11.9v10.0h-11.9zM159.3 342.9h11.9v10.0h-11.9zM170.6 342.9h11.9v10.0h-11.9zM181.9 342.9h11.9v10.0h-11.9zM193.2 342.9h11.9v10.0h-11.9zM204.5 342.9h11.9v10.0h-11.9zM215.8 342.9h11.9v10.0h-11.9zM227.2 342.9h11.9v10.0h-11.9zM238.5 342.9h11.9v10.0h-11.9zM249.8 342.9h11.9v10.0h-11.9zM261.1 342.9h11.9v10.0h-11.9zM272.4 342.9h11.9v10.0h-11.9zM283.7 342.9h11.9v10.0h-11.9zM295.1 342.9h11.9v10.0h-11.9zM306.4 342.9h11.9v10.0h-11.9zM317.7 342.9h11.9v10.0h-11.9zM329.0 342.9h11.9v10.0h-11.9zM340.3 342.9h11.9v10.0h-11.9zM351.6 342.9h11.9v10.0h-11.9zM362.9 342.9h11.9v10.0h-11.9zM374.3 342.9h11.9v10.0h-11.9zM385.6 342.9h11.9v10.0h-11.9zM396.9 342.9h11.9v10.0h-11.9zM408.2 342.9h11.9v10.0h-11.9zM419.5 342.9h11.9v10.0h-11.9zM430.8 342.9h11.9v10.0h-11.9zM442.1 342.9h11.9v10.0h-11.9zM453.5 342.9h11.9v10.0h-11.9zM464.8 342.9h11.9v10.0h-11.9zM476.1 342.9h11.9v10.0h-11.9zM487.4 342.9h11.9v10.0h-11.9zM498.7 342.9h11.9v10.0h-11.9zM510.0 342.9h11.9v10.0h-11.9zM521.4 342.9h11.9v10.0h-11.9zM532.7 342.9h11.9v10.0h-11.9zM544.0 342.9h11.9v10.0h-11.9zM555.3 342.9h11.9v10.0h-11.9zM566.6 342.9h11.9v10.0h-11.9zM577.9 342.9h11.9v10.0h-11.9zM589.2 342.9h11.9v10.0h-11.9zM600.6 342.9h11.9v10.0h-11.9zM611.9 342.9h11.9v10.0h-11.9zM623.2 342.9h11.9v10.0h-11.9zM634.5 342.9h11.9v10.0h-11.9zM645.8 342.9h11.9v10.0h-11.9zM657.1 342.9h11.9v10.0h-11.9zM668.5 342.9h11.9v10.0h-11.9zM679.8 342.9h11.9v10.0h-11.9zM691.1 342.9h11.9v10.0h-11.9zM702.4 342.9h11.9v10.0h-11.9zM713.7 342.9h11.9v10.0h-11.9zM725.0 342.9h11.9v10.0h-11.9zM148.0 352.3h11.9v10.0h-11.9zM159.3 352.3h11.9v10.0h-11.9zM170.6 352.3h11.9v10.0h-11.9zM181.9 352.3h11.9v10.0h-11.9zM193.2 352.3h11.9v10.0h-11.9zM204.5 352.3h11.9v10.0h-11.9zM215.8 352.3h11.9v10.0h-11.9zM227.2 352.3h11.9v10.0h-11.9zM238.5 352.3h11.9v10.0h-11.9zM249.8 352.3h11.9v10.0h-11.9zM261.1 352.3h11.9v10.0h-11.9zM272.4 352.3h11.9v10.0h-11.9zM283.7 352.3h11.9v10.0h-11.9zM295.1 352.3h11.9v10.0h-11.9zM306.4 352.3h11.9v10.0h-11.9zM317.7 352.3h11.9v10.0h-11.9zM329.0 352.3h11.9v10.0h-11.9zM340.3 352.3h11.9v10.0h-11.9zM351.6 352.3h11.9v10.0h-11.9zM362.9 352.3h11.9v10.0h-11.9zM374.3 352.3h11.9v10.0h-11.9zM385.6 352.3h11.9v10.0h-11.9zM396.9 352.3h11.9v10.0h-11.9zM408.2 352.3h11.9v10.0h-11.9zM419.5 352.3h11.9v10.0h-11.9zM430.8 352.3h11.9v10.0h-11.9zM442.1 352.3h11.9v10.0h-11.9zM453.5 352.3h11.9v10.0h-11.9zM464.8 352.3h11.9v10.0h-11.9zM476.1 352.3h11.9v10.0h-11.9zM487.4 352.3h11.9v10.0h-11.9zM498.7 352.3h11.9v10.0h-11.9zM510.0 352.3h11.9v10.0h-11.9zM521.4 352.3h11.9v10.0h-11.9zM532.7 352.3h11.9v10.0h-11.9zM544.0 352.3h11.9v10.0h-11.9zM555.3 352.3h11.9v10.0h-11.9zM566.6 352.3h11.9v10.0h-11.9zM577.9 352.3h11.9v10.0h-11.9zM589.2 352.3h11.9v10.0h-11.9zM600.6 352.3h11.9v10.0h-11.9zM611.9 352.3h11.9v10.0h-11.9zM623.2 352.3h11.9v10.0h-11.9zM634.5 352.3h11.9v10.0h-11.9zM645.8 352.3h11.9v10.0h-11.9zM657.1 352.3h11.9v10.0h-11.9zM668.5 352.3h11.9v10.0h-11.9zM679.8 352.3h11.9v10.0h-11.9zM691.1 352.3h11.9v10.0h-11.9zM702.4 352.3h11.9v10.0h-11.9zM713.7 352.3h11.9v10.0h-11.9zM148.0 361.7h11.9v10.0h-11.9zM159.3 361.7h11.9v10.0h-11.9zM170.6 361.7h11.9v10.0h-11.9zM181.9 361.7h11.9v10.0h-11.9zM193.2 361.7h11.9v10.0h-11.9zM204.5 361.7h11.9v10.0h-11.9zM215.8 361.7h11.9v10.0h-11.9zM227.2 361.7h11.9v10.0h-11.9zM238.5 361.7h11.9v10.0h-11.9zM249.8 361.7h11.9v10.0h-11.9zM261.1 361.7h11.9v10.0h-11.9zM272.4 361.7h11.9v10.0h-11.9zM283.7 361.7h11.9v10.0h-11.9zM295.1 361.7h11.9v10.0h-11.9zM306.4 361.7h11.9v10.0h-11.9zM317.7 361.7h11.9v10.0h-11.9zM329.0 361.7h11.9v10.0h-11.9zM340.3 361.7h11.9v10.0h-11.9zM351.6 361.7h11.9v10.0h-11.9zM362.9 361.7h11.9v10.0h-11.9zM374.3 361.7h11.9v10.0h-11.9zM385.6 361.7h11.9v10.0h-11.9zM396.9 361.7h11.9v10.0h-11.9zM408.2 361.7h11.9v10.0h-11.9zM419.5 361.7h11.9v10.0h-11.9zM430.8 361.7h11.9v10.0h-11.9zM442.1 361.7h11.9v10.0h-11.9zM453.5 361.7h11.9v10.0h-11.9zM464.8 361.7h11.9v10.0h-11.9zM476.1 361.7h11.9v10.0h-11.9zM487.4 361.7h11.9v10.0h-11.9zM498.7 361.7h11.9v10.0h-11.9zM510.0 361.7h11.9v10.0h-11.9zM521.4 361.7h11.9v10.0h-11.9zM532.7 361.7h11.9v10.0h-11.9zM544.0 361.7h11.9v10.0h-11.9zM555.3 361.7h11.9v10.0h-11.9zM566.6 361.7h11.9v10.0h-11.9zM577.9 361.7h11.9v10.0h-11.9zM589.2 361.7h11.9v10.0h-11.9zM600.6 361.7h11.9v10.0h-11.9zM611.9 361.7h11.9v10.0h-11.9zM623.2 361.7h11.9v10.0h-11.9zM634.5 361.7h11.9v10.0h-11.9zM645.8 361.7h11.9v10.0h-11.9zM657.1 361.7h11.9v10.0h-11.9zM668.5 361.7h11.9v10.0h-11.9zM679.8 361.7h11.9v10.0h-11.9zM691.1 361.7h11.9v10.0h-11.9zM702.4 361.7h11.9v10.0h-11.9zM170.6 371.1h11.9v10.0h-11.9zM181.9 371.1h11.9v10.0h-11.9zM193.2 371.1h11.9v10.0h-11.9zM204.5 371.1h11.9v10.0h-11.9zM215.8 371.1h11.9v10.0h-11.9zM227.2 371.1h11.9v10.0h-11.9zM238.5 371.1h11.9v10.0h-11.9zM249.8 371.1h11.9v10.0h-11.9zM261.1 371.1h11.9v10.0h-11.9zM272.4 371.1h11.9v10.0h-11.9zM283.7 371.1h11.9v10.0h-11.9zM295.1 371.1h11.9v10.0h-11.9zM306.4 371.1h11.9v10.0h-11.9zM317.7 371.1h11.9v10.0h-11.9zM329.0 371.1h11.9v10.0h-11.9zM340.3 371.1h11.9v10.0h-11.9zM351.6 371.1h11.9v10.0h-11.9zM362.9 371.1h11.9v10.0h-11.9zM374.3 371.1h11.9v10.0h-11.9zM385.6 371.1h11.9v10.0h-11.9zM396.9 371.1h11.9v10.0h-11.9zM408.2 371.1h11.9v10.0h-11.9zM419.5 371.1h11.9v10.0h-11.9zM430.8 371.1h11.9v10.0h-11.9zM442.1 371.1h11.9v10.0h-11.9zM453.5 371.1h11.9v10.0h-11.9zM464.8 371.1h11.9v10.0h-11.9zM476.1 371.1h11.9v10.0h-11.9zM487.4 371.1h11.9v10.0h-11.9zM498.7 371.1h11.9v10.0h-11.9zM510.0 371.1h11.9v10.0h-11.9zM521.4 371.1h11.9v10.0h-11.9zM532.7 371.1h11.9v10.0h-11.9zM544.0 371.1h11.9v10.0h-11.9zM555.3 371.1h11.9v10.0h-11.9zM566.6 371.1h11.9v10.0h-11.9zM577.9 371.1h11.9v10.0h-11.9zM589.2 371.1h11.9v10.0h-11.9zM600.6 371.1h11.9v10.0h-11.9zM611.9 371.1h11.9v10.0h-11.9zM623.2 371.1h11.9v10.0h-11.9zM634.5 371.1h11.9v10.0h-11.9zM645.8 371.1h11.9v10.0h-11.9zM657.1 371.1h11.9v10.0h-11.9zM668.5 371.1h11.9v10.0h-11.9zM679.8 371.1h11.9v10.0h-11.9zM691.1 371.1h11.9v10.0h-11.9zM170.6 380.4h11.9v10.0h-11.9zM181.9 380.4h11.9v10.0h-11.9zM193.2 380.4h11.9v10.0h-11.9zM204.5 380.4h11.9v10.0h-11.9zM215.8 380.4h11.9v10.0h-11.9zM227.2 380.4h11.9v10.0h-11.9zM238.5 380.4h11.9v10.0h-11.9zM249.8 380.4h11.9v10.0h-11.9zM261.1 380.4h11.9v10.0h-11.9zM272.4 380.4h11.9v10.0h-11.9zM283.7 380.4h11.9v10.0h-11.9zM295.1 380.4h11.9v10.0h-11.9zM306.4 380.4h11.9v10.0h-11.9zM317.7 380.4h11.9v10.0h-11.9zM329.0 380.4h11.9v10.0h-11.9zM340.3 380.4h11.9v10.0h-11.9zM351.6 380.4h11.9v10.0h-11.9zM362.9 380.4h11.9v10.0h-11.9zM374.3 380.4h11.9v10.0h-11.9zM385.6 380.4h11.9v10.0h-11.9zM396.9 380.4h11.9v10.0h-11.9zM408.2 380.4h11.9v10.0h-11.9zM419.5 380.4h11.9v10.0h-11.9zM430.8 380.4h11.9v10.0h-11.9zM442.1 380.4h11.9v10.0h-11.9zM453.5 380.4h11.9v10.0h-11.9zM464.8 380.4h11.9v10.0h-11.9zM476.1 380.4h11.9v10.0h-11.9zM487.4 380.4h11.9v10.0h-11.9zM498.7 380.4h11.9v10.0h-11.9zM510.0 380.4h11.9v10.0h-11.9zM521.4 380.4h11.9v10.0h-11.9zM532.7 380.4h11.9v10.0h-11.9zM544.0 380.4h11.9v10.0h-11.9zM555.3 380.4h11.9v10.0h-11.9zM566.6 380.4h11.9v10.0h-11.9zM577.9 380.4h11.9v10.0h-11.9zM589.2 380.4h11.9v10.0h-11.9zM600.6 380.4h11.9v10.0h-11.9zM611.9 380.4h11.9v10.0h-11.9zM623.2 380.4h11.9v10.0h-11.9zM634.5 380.4h11.9v10.0h-11.9zM645.8 380.4h11.9v10.0h-11.9zM657.1 380.4h11.9v10.0h-11.9zM668.5 380.4h11.9v10.0h-11.9zM679.8 380.4h11.9v10.0h-11.9zM193.2 389.8h11.9v10.0h-11.9zM204.5 389.8h11.9v10.0h-11.9zM215.8 389.8h11.9v10.0h-11.9zM227.2 389.8h11.9v10.0h-11.9zM238.5 389.8h11.9v10.0h-11.9zM249.8 389.8h11.9v10.0h-11.9zM261.1 389.8h11.9v10.0h-11.9zM272.4 389.8h11.9v10.0h-11.9zM283.7 389.8h11.9v10.0h-11.9zM295.1 389.8h11.9v10.0h-11.9zM306.4 389.8h11.9v10.0h-11.9zM317.7 389.8h11.9v10.0h-11.9zM329.0 389.8h11.9v10.0h-11.9zM340.3 389.8h11.9v10.0h-11.9zM351.6 389.8h11.9v10.0h-11.9zM362.9 389.8h11.9v10.0h-11.9zM374.3 389.8h11.9v10.0h-11.9zM385.6 389.8h11.9v10.0h-11.9zM396.9 389.8h11.9v10.0h-11.9zM408.2 389.8h11.9v10.0h-11.9zM419.5 389.8h11.9v10.0h-11.9zM430.8 389.8h11.9v10.0h-11.9zM442.1 389.8h11.9v10.0h-11.9zM453.5 389.8h11.9v10.0h-11.9zM464.8 389.8h11.9v10.0h-11.9zM476.1 389.8h11.9v10.0h-11.9zM487.4 389.8h11.9v10.0h-11.9zM498.7 389.8h11.9v10.0h-11.9zM510.0 389.8h11.9v10.0h-11.9zM521.4 389.8h11.9v10.0h-11.9zM532.7 389.8h11.9v10.0h-11.9zM544.0 389.8h11.9v10.0h-11.9zM555.3 389.8h11.9v10.0h-11.9zM566.6 389.8h11.9v10.0h-11.9zM577.9 389.8h11.9v10.0h-11.9zM589.2 389.8h11.9v10.0h-11.9zM600.6 389.8h11.9v10.0h-11.9zM611.9 389.8h11.9v10.0h-11.9zM623.2 389.8h11.9v10.0h-11.9zM634.5 389.8h11.9v10.0h-11.9zM645.8 389.8h11.9v10.0h-11.9zM657.1 389.8h11.9v10.0h-11.9zM668.5 389.8h11.9v10.0h-11.9zM204.5 399.2h11.9v10.0h-11.9zM215.8 399.2h11.9v10.0h-11.9zM227.2 399.2h11.9v10.0h-11.9zM238.5 399.2h11.9v10.0h-11.9zM249.8 399.2h11.9v10.0h-11.9zM261.1 399.2h11.9v10.0h-11.9zM272.4 399.2h11.9v10.0h-11.9zM283.7 399.2h11.9v10.0h-11.9zM295.1 399.2h11.9v10.0h-11.9zM306.4 399.2h11.9v10.0h-11.9zM317.7 399.2h11.9v10.0h-11.9zM329.0 399.2h11.9v10.0h-11.9zM340.3 399.2h11.9v10.0h-11.9zM351.6 399.2h11.9v10.0h-11.9zM362.9 399.2h11.9v10.0h-11.9zM374.3 399.2h11.9v10.0h-11.9zM385.6 399.2h11.9v10.0h-11.9zM396.9 399.2h11.9v10.0h-11.9zM408.2 399.2h11.9v10.0h-11.9zM419.5 399.2h11.9v10.0h-11.9zM430.8 399.2h11.9v10.0h-11.9zM442.1 399.2h11.9v10.0h-11.9zM453.5 399.2h11.9v10.0h-11.9zM464.8 399.2h11.9v10.0h-11.9zM476.1 399.2h11.9v10.0h-11.9zM487.4 399.2h11.9v10.0h-11.9zM498.7 399.2h11.9v10.0h-11.9zM510.0 399.2h11.9v10.0h-11.9zM521.4 399.2h11.9v10.0h-11.9zM532.7 399.2h11.9v10.0h-11.9zM544.0 399.2h11.9v10.0h-11.9zM555.3 399.2h11.9v10.0h-11.9zM566.6 399.2h11.9v10.0h-11.9zM577.9 399.2h11.9v10.0h-11.9zM589.2 399.2h11.9v10.0h-11.9zM600.6 399.2h11.9v10.0h-11.9zM611.9 399.2h11.9v10.0h-11.9zM623.2 399.2h11.9v10.0h-11.9zM634.5 399.2h11.9v10.0h-11.9zM645.8 399.2h11.9v10.0h-11.9zM657.1 399.2h11.9v10.0h-11.9zM227.2 408.6h11.9v10.0h-11.9zM238.5 408.6h11.9v10.0h-11.9zM249.8 408.6h11.9v10.0h-11.9zM261.1 408.6h11.9v10.0h-11.9zM272.4 408.6h11.9v10.0h-11.9zM283.7 408.6h11.9v10.0h-11.9zM295.1 408.6h11.9v10.0h-11.9zM306.4 408.6h11.9v10.0h-11.9zM317.7 408.6h11.9v10.0h-11.9zM329.0 408.6h11.9v10.0h-11.9zM340.3 408.6h11.9v10.0h-11.9zM351.6 408.6h11.9v10.0h-11.9zM362.9 408.6h11.9v10.0h-11.9zM374.3 408.6h11.9v10.0h-11.9zM385.6 408.6h11.9v10.0h-11.9zM396.9 408.6h11.9v10.0h-11.9zM408.2 408.6h11.9v10.0h-11.9zM419.5 408.6h11.9v10.0h-11.9zM430.8 408.6h11.9v10.0h-11.9zM442.1 408.6h11.9v10.0h-11.9zM453.5 408.6h11.9v10.0h-11.9zM464.8 408.6h11.9v10.0h-11.9zM476.1 408.6h11.9v10.0h-11.9zM487.4 408.6h11.9v10.0h-11.9zM498.7 408.6h11.9v10.0h-11.9zM510.0 408.6h11.9v10.0h-11.9zM521.4 408.6h11.9v10.0h-11.9zM532.7 408.6h11.9v10.0h-11.9zM544.0 408.6h11.9v10.0h-11.9zM555.3 408.6h11.9v10.0h-11.9zM566.6 408.6h11.9v10.0h-11.9zM577.9 408.6h11.9v10.0h-11.9zM589.2 408.6h11.9v10.0h-11.9zM600.6 408.6h11.9v10.0h-11.9zM611.9 408.6h11.9v10.0h-11.9zM623.2 408.6h11.9v10.0h-11.9zM634.5 408.6h11.9v10.0h-11.9zM238.5 418.0h11.9v10.0h-11.9zM249.8 418.0h11.9v10.0h-11.9zM261.1 418.0h11.9v10.0h-11.9zM272.4 418.0h11.9v10.0h-11.9zM283.7 418.0h11.9v10.0h-11.9zM295.1 418.0h11.9v10.0h-11.9zM306.4 418.0h11.9v10.0h-11.9zM317.7 418.0h11.9v10.0h-11.9zM329.0 418.0h11.9v10.0h-11.9zM340.3 418.0h11.9v10.0h-11.9zM351.6 418.0h11.9v10.0h-11.9zM362.9 418.0h11.9v10.0h-11.9zM374.3 418.0h11.9v10.0h-11.9zM385.6 418.0h11.9v10.0h-11.9zM396.9 418.0h11.9v10.0h-11.9zM408.2 418.0h11.9v10.0h-11.9zM419.5 418.0h11.9v10.0h-11.9zM430.8 418.0h11.9v10.0h-11.9zM442.1 418.0h11.9v10.0h-11.9zM453.5 418.0h11.9v10.0h-11.9zM464.8 418.0h11.9v10.0h-11.9zM476.1 418.0h11.9v10.0h-11.9zM487.4 418.0h11.9v10.0h-11.9zM498.7 418.0h11.9v10.0h-11.9zM510.0 418.0h11.9v10.0h-11.9zM521.4 418.0h11.9v10.0h-11.9zM532.7 418.0h11.9v10.0h-11.9zM544.0 418.0h11.9v10.0h-11.9zM555.3 418.0h11.9v10.0h-11.9zM566.6 418.0h11.9v10.0h-11.9zM577.9 418.0h11.9v10.0h-11.9zM589.2 418.0h11.9v10.0h-11.9zM600.6 418.0h11.9v10.0h-11.9zM611.9 418.0h11.9v10.0h-11.9zM623.2 418.0h11.9v10.0h-11.9zM261.1 427.4h11.9v10.0h-11.9zM272.4 427.4h11.9v10.0h-11.9zM283.7 427.4h11.9v10.0h-11.9zM295.1 427.4h11.9v10.0h-11.9zM306.4 427.4h11.9v10.0h-11.9zM317.7 427.4h11.9v10.0h-11.9zM329.0 427.4h11.9v10.0h-11.9zM340.3 427.4h11.9v10.0h-11.9zM351.6 427.4h11.9v10.0h-11.9zM362.9 427.4h11.9v10.0h-11.9zM374.3 427.4h11.9v10.0h-11.9zM385.6 427.4h11.9v10.0h-11.9zM396.9 427.4h11.9v10.0h-11.9zM408.2 427.4h11.9v10.0h-11.9zM419.5 427.4h11.9v10.0h-11.9zM430.8 427.4h11.9v10.0h-11.9zM442.1 427.4h11.9v10.0h-11.9zM453.5 427.4h11.9v10.0h-11.9zM464.8 427.4h11.9v10.0h-11.9zM476.1 427.4h11.9v10.0h-11.9zM487.4 427.4h11.9v10.0h-11.9zM498.7 427.4h11.9v10.0h-11.9zM510.0 427.4h11.9v10.0h-11.9zM521.4 427.4h11.9v10.0h-11.9zM532.7 427.4h11.9v10.0h-11.9zM544.0 427.4h11.9v10.0h-11.9zM555.3 427.4h11.9v10.0h-11.9zM566.6 427.4h11.9v10.0h-11.9zM577.9 427.4h11.9v10.0h-11.9zM589.2 427.4h11.9v10.0h-11.9zM600.6 427.4h11.9v10.0h-11.9zM295.1 436.8h11.9v10.0h-11.9zM306.4 436.8h11.9v10.0h-11.9zM317.7 436.8h11.9v10.0h-11.9zM329.0 436.8h11.9v10.0h-11.9zM340.3 436.8h11.9v10.0h-11.9zM351.6 436.8h11.9v10.0h-11.9zM362.9 436.8h11.9v10.0h-11.9zM374.3 436.8h11.9v10.0h-11.9zM385.6 436.8h11.9v10.0h-11.9zM396.9 436.8h11.9v10.0h-11.9zM408.2 436.8h11.9v10.0h-11.9zM419.5 436.8h11.9v10.0h-11.9zM430.8 436.8h11.9v10.0h-11.9zM442.1 436.8h11.9v10.0h-11.9zM453.5 436.8h11.9v10.0h-11.9zM464.8 436.8h11.9v10.0h-11.9zM476.1 436.8h11.9v10.0h-11.9zM487.4 436.8h11.9v10.0h-11.9zM498.7 436.8h11.9v10.0h-11.9zM510.0 436.8h11.9v10.0h-11.9zM521.4 436.8h11.9v10.0h-11.9zM532.7 436.8h11.9v10.0h-11.9zM544.0 436.8h11.9v10.0h-11.9zM555.3 436.8h11.9v10.0h-11.9zM566.6 436.8h11.9v10.0h-11.9zM329.0 446.2h11.9v10.0h-11.9zM340.3 446.2h11.9v10.0h-11.9zM351.6 446.2h11.9v10.0h-11.9zM362.9 446.2h11.9v10.0h-11.9zM374.3 446.2h11.9v10.0h-11.9zM385.6 446.2h11.9v10.0h-11.9zM396.9 446.2h11.9v10.0h-11.9zM408.2 446.2h11.9v10.0h-11.9zM419.5 446.2h11.9v10.0h-11.9zM430.8 446.2h11.9v10.0h-11.9zM442.1 446.2h11.9v10.0h-11.9zM453.5 446.2h11.9v10.0h-11.9zM464.8 446.2h11.9v10.0h-11.9zM476.1 446.2h11.9v10.0h-11.9zM487.4 446.2h11.9v10.0h-11.9zM498.7 446.2h11.9v10.0h-11.9zM510.0 446.2h11.9v10.0h-11.9zM521.4 446.2h11.9v10.0h-11.9zM532.7 446.2h11.9v10.0h-11.9zM385.6 455.6h11.9v10.0h-11.9zM396.9 455.6h11.9v10.0h-11.9zM408.2 455.6h11.9v10.0h-11.9zM419.5 455.6h11.9v10.0h-11.9zM430.8 455.6h11.9v10.0h-11.9zM442.1 455.6h11.9v10.0h-11.9zM453.5 455.6h11.9v10.0h-11.9zM464.8 455.6h11.9v10.0h-11.9zM476.1 455.6h11.9v10.0h-11.9z"/>
<g shape-rendering="crispEdges">
<rect x="375" y="33" width="11" height="10" fill="#ffff00"/>
<rect x="488" y="33" width="11" height="10" fill="#ffff00"/>
<rect x="375" y="43" width="11" height="10" fill="#ffff00"/>
<rect x="488" y="43" width="11" height="10" fill="#ffff00"/>
<rect x="341" y="52" width="11" height="10" fill="#ffff00"/>
<rect x="397" y="52" width="12" height="10" fill="#ffff00"/>
<rect x="420" y="52" width="11" height="10" fill="#ffff00"/>
<rect x="431" y="52" width="12" height="10" fill="#ffff00"/>
<rect x="284" y="61" width="12" height="10" fill="#ffff00"/>
<rect x="329" y="61" width="12" height="10" fill="#ffff00"/>
<rect x="352" y="71" width="12" height="10" fill="#ffff00"/>
<rect x="476" y="71" width="12" height="10" fill="#ffff00"/>
<rect x="397" y="80" width="12" height="10" fill="#ffff00"/>
<rect x="442" y="80" width="12" height="10" fill="#ffff00"/>
<rect x="544" y="80" width="12" height="10" fill="#ffff00"/>
<rect x="341" y="90" width="11" height="10" fill="#ffff00"/>
<rect x="352" y="90" width="12" height="10" fill="#ffff00"/>
<rect x="375" y="90" width="11" height="10" fill="#ffff00"/>
<rect x="476" y="90" width="12" height="10" fill="#ffff00"/>
<rect x="612" y="90" width="12" height="10" fill="#ffff00"/>
<rect x="635" y="90" width="11" height="10" fill="#ffff00"/>
<rect x="318" y="99" width="12" height="10" fill="#ffe600"/>
<rect x="363" y="99" width="12" height="10" fill="#ffff00"/>
<rect x="420" y="99" width="11" height="10" fill="#ffff00"/>
<rect x="657" y="99" width="12" height="10" fill="#ffff00"/>
<rect x="341" y="108" width="11" height="10" fill="#ffd200"/>
<rect x="352" y="108" width="12" height="10" fill="#ffe600"/>
<rect x="375" y="108" width="11" height="10" fill="#ffff00"/>
<rect x="386" y="108" width="11" height="10" fill="#ffff00"/>
<rect x="420" y="108" width="11" height="10" fill="#ffff00"/>
<rect x="454" y="108" width="11" height="10" fill="#ffff00"/>
<rect x="465" y="108" width="12" height="10" fill="#ffff00"/>
<rect x="590" y="108" width="11" height="10" fill="#ffff00"/>
<rect x="623" y="108" width="12" height="10" fill="#ffff00"/>
<rect x="318" y="118" width="12" height="10" fill="#ffff00"/>
<rect x="329" y="118" width="12" height="10" fill="#ffe600"/>
<rect x="341" y="118" width="11" height="10" fill="#ff9600"/>
<rect x="352" y="118" width="12" height="10" fill="#ffbe00"/>
<rect x="431" y="118" width="12" height="10" fill="#ffff00"/>
<rect x="442" y="118" width="12" height="10" fill="#ffff00"/>
<rect x="454" y="118" width="11" height="10" fill="#ffe600"/>
<rect x="510" y="118" width="12" height="10" fill="#ffff00"/>
<rect x="646" y="118" width="12" height="10" fill="#ffff00"/>
<rect x="284" y="127" width="12" height="10" fill="#ffff00"/>
<rect x="295" y="127" width="12" height="10" fill="#ffff00"/>
<rect x="329" y="127" width="12" height="10" fill="#ffe600"/>
<rect x="341" y="127" width="11" height="10" fill="#ffaa00"/>
<rect x="352" y="127" width="12" height="10" fill="#ff9600"/>
<rect x="375" y="127" width="11" height="10" fill="#ffff00"/>
<rect x="386" y="127" width="11" height="10" fill="#ffff00"/>
<rect x="409" y="127" width="11" height="10" fill="#ffff00"/>
<rect x="431" y="127" width="12" height="10" fill="#ffe600"/>
<rect x="442" y="127" width="12" height="10" fill="#ffff00"/>
<rect x="510" y="127" width="12" height="10" fill="#ffff00"/>
<rect x="556" y="127" width="11" height="10" fill="#ffff00"/>
<rect x="590" y="127" width="11" height="10" fill="#ffff00"/>
<rect x="601" y="127" width="11" height="10" fill="#ffff00"/>
<rect x="295" y="137" width="12" height="9" fill="#ffff00"/>
<rect x="307" y="137" width="11" height="9" fill="#ffe600"/>
<rect x="318" y="137" width="12" height="9" fill="#ffe600"/>
<rect x="329" y="137" width="12" height="9" fill="#ffe600"/>
<rect x="341" y="137" width="11" height="9" fill="#ffaa00"/>
<rect x="352" y="137" width="12" height="9" fill="#ff9600"/>
<rect x="363" y="137" width="12" height="9" fill="#ffe600"/>
<rect x="375" y="137" width="11" height="9" fill="#ffe600"/>
<rect x="386" y="137" width="11" height="9" fill="#ffff00"/>
<rect x="397" y="137" width="12" height="9" fill="#ffff00"/>
<rect x="442" y="137" width="12" height="9" fill="#ffe600"/>
<rect x="454" y="137" width="11" height="9" fill="#ffff00"/>
<rect x="567" y="137" width="12" height="9" fill="#ffff00"/>
<rect x="307" y="146" width="11" height="10" fill="#ffff00"/>
<rect x="318" y="146" width="12" height="10" fill="#ffff00"/>
<rect x="341" y="146" width="11" height="10" fill="#ffaa00"/>
<rect x="352" y="146" width="12" height="10" fill="#ff9600"/>
<rect x="363" y="146" width="12" height="10" fill="#ffe600"/>
<rect x="375" y="146" width="11" height="10" fill="#ffe600"/>
<rect x="386" y="146" width="11" height="10" fill="#ffe600"/>
<rect x="397" y="146" width="12" height="10" fill="#ffff00"/>
<rect x="409" y="146" width="11" height="10" fill="#ffff00"/>
<rect x="420" y="146" width="11" height="10" fill="#ffe600"/>
<rect x="431" y="146" width="12" height="10" fill="#ffff00"/>
<rect x="442" y="146" width="12" height="10" fill="#ffff00"/>
<rect x="454" y="146" width="11" height="10" fill="#ffe600"/>
<rect x="465" y="146" width="12" height="10" fill="#ffff00"/>
<rect x="476" y="146" width="12" height="10" fill="#ffe600"/>
<rect x="499" y="146" width="12" height="10" fill="#ffff00"/>
<rect x="533" y="146" width="12" height="10" fill="#ffff00"/>
<rect x="544" y="146" width="12" height="10" fill="#ffff00"/>
<rect x="341" y="155" width="11" height="10" fill="#ffaa00"/>
<rect x="352" y="155" width="12" height="10" fill="#ff9600"/>
<rect x="363" y="155" width="12" height="10" fill="#ffbe00"/>
<rect x="375" y="155" width="11" height="10" fill="#ffff00"/>
<rect x="386" y="155" width="11" height="10" fill="#ffff00"/>
<rect x="420" y="155" width="11" height="10" fill="#ffff00"/>
<rect x="431" y="155" width="12" height="10" fill="#ffff00"/>
<rect x="442" y="155" width="12" height="10" fill="#ffff00"/>
<rect x="454" y="155" width="11" height="10" fill="#ffff00"/>
<rect x="488" y="155" width="11" height="10" fill="#ffff00"/>
<rect x="556" y="155" width="11" height="10" fill="#ffff00"/>
<rect x="567" y="155" width="12" height="10" fill="#ffe600"/>
<rect x="680" y="155" width="12" height="10" fill="#ffff00"/>
<rect x="148" y="165" width="12" height="10" fill="#ffff00"/>
<rect x="171" y="165" width="12" height="10" fill="#ffff00"/>
<rect x="194" y="165" width="11" height="10" fill="#ffff00"/>
<rect x="329" y="165" width="12" height="10" fill="#ffd200"/>
<rect x="341" y="165" width="11" height="10" fill="#ffd200"/>
<rect x="352" y="165" width="12" height="10" fill="#ff8000"/>
<rect x="363" y="165" width="12" height="10" fill="#ff9600"/>
<rect x="375" y="165" width="11" height="10" fill="#ffd200"/>
<rect x="386" y="165" width="11" height="10" fill="#ffd200"/>
<rect x="397" y="165" width="12" height="10" fill="#ffe600"/>
<rect x="409" y="165" width="11" height="10" fill="#ffe600"/>
<rect x="420" y="165" width="11" height="10" fill="#ffff00"/>
<rect x="431" y="165" width="12" height="10" fill="#ffe600"/>
<rect x="454" y="165" width="11" height="10" fill="#ffff00"/>
<rect x="465" y="165" width="12" height="10" fill="#ffff00"/>
<rect x="476" y="165" width="12" height="10" fill="#ffff00"/>
<rect x="488" y="165" width="11" height="10" fill="#ffff00"/>
<rect x="522" y="165" width="11" height="10" fill="#ffff00"/>
<rect x="533" y="165" width="12" height="10" fill="#ffff00"/>
<rect x="590" y="165" width="11" height="10" fill="#ffff00"/>
<rect x="646" y="165" width="12" height="10" fill="#ffff00"/>
<rect x="137" y="174" width="12" height="10" fill="#ffff00"/>
<rect x="194" y="174" width="11" height="10" fill="#ffff00"/>
<rect x="205" y="174" width="11" height="10" fill="#ffff00"/>
<rect x="216" y="174" width="12" height="10" fill="#ffff00"/>
<rect x="227" y="174" width="12" height="10" fill="#ffff00"/>
<rect x="261" y="174" width="12" height="10" fill="#ffff00"/>
<rect x="295" y="174" width="12" height="10" fill="#ffff00"/>
<rect x="307" y="174" width="11" height="10" fill="#ffff00"/>
<rect x="318" y="174" width="12" height="10" fill="#ffff00"/>
<rect x="329" y="174" width="12" height="10" fill="#ffe600"/>
<rect x="352" y="174" width="12" height="10" fill="#ffbe00"/>
<rect x="363" y="174" width="12" height="10" fill="#ff9600"/>
<rect x="375" y="174" width="11" height="10" fill="#ff9600"/>
<rect x="386" y="174" width="11" height="10" fill="#ffbe00"/>
<rect x="397" y="174" width="12" height="10" fill="#ffff00"/>
<rect x="409" y="174" width="11" height="10" fill="#ffff00"/>
<rect x="420" y="174" width="11" height="10" fill="#ffe600"/>
<rect x="431" y="174" width="12" height="10" fill="#ffe600"/>
<rect x="442" y="174" width="12" height="10" fill="#ffe600"/>
<rect x="454" y="174" width="11" height="10" fill="#ffff00"/>
<rect x="465" y="174" width="12" height="10" fill="#ffe600"/>
<rect x="476" y="174" width="12" height="10" fill="#ffff00"/>
<rect x="510" y="174" width="12" height="10" fill="#ffff00"/>
<rect x="556" y="174" width="11" height="10" fill="#ffff00"/>
<rect x="590" y="174" width="11" height="10" fill="#ffff00"/>
<rect x="612" y="174" width="12" height="10" fill="#ffff00"/>
<rect x="657" y="174" width="12" height="10" fill="#ffff00"/>
<rect x="714" y="174" width="12" height="10" fill="#ffff00"/>
<rect x="126" y="184" width="11" height="9" fill="#ffff00"/>
<rect x="205" y="184" width="11" height="9" fill="#ffff00"/>
<rect x="239" y="184" width="11" height="9" fill="#ffff00"/>
<rect x="250" y="184" width="12" height="9" fill="#ffff00"/>
<rect x="261" y="184" width="12" height="9" fill="#ffe600"/>
<rect x="273" y="184" width="11" height="9" fill="#ffff00"/>
<rect x="295" y="184" width="12" height="9" fill="#ffff00"/>
<rect x="307" y="184" width="11" height="9" fill="#ffff00"/>
<rect x="329" y="184" width="12" height="9" fill="#ffe600"/>
<rect x="341" y="184" width="11" height="9" fill="#ffff00"/>
<rect x="352" y="184" width="12" height="9" fill="#ffff00"/>
<rect x="363" y="184" width="12" height="9" fill="#ffbe00"/>
<rect x="375" y="184" width="11" height="9" fill="#ff8000"/>
<rect x="386" y="184" width="11" height="9" fill="#ffaa00"/>
<rect x="397" y="184" width="12" height="9" fill="#ffbe00"/>
<rect x="409" y="184" width="11" height="9" fill="#ffbe00"/>
<rect x="420" y="184" width="11" height="9" fill="#ffff00"/>
<rect x="431" y="184" width="12" height="9" fill="#ffd200"/>
<rect x="442" y="184" width="12" height="9" fill="#ffd200"/>
<rect x="454" y="184" width="11" height="9" fill="#ffbe00"/>
<rect x="465" y="184" width="12" height="9" fill="#ffd200"/>
<rect x="533" y="184" width="12" height="9" fill="#ffff00"/>
<rect x="556" y="184" width="11" height="9" fill="#ffff00"/>
<rect x="578" y="184" width="12" height="9" fill="#ffff00"/>
<rect x="601" y="184" width="11" height="9" fill="#ffff00"/>
<rect x="691" y="184" width="12" height="9" fill="#ffff00"/>
<rect x="216" y="193" width="12" height="10" fill="#ffff00"/>
<rect x="295" y="193" width="12" height="10" fill="#ffff00"/>
<rect x="307" y="193" width="11" height="10" fill="#ffff00"/>
<rect x="318" y="193" width="12" height="10" fill="#ffe600"/>
<rect x="329" y="193" width="12" height="10" fill="#ffff00"/>
<rect x="341" y="193" width="11" height="10" fill="#ffe600"/>
<rect x="352" y="193" width="12" height="10" fill="#ffd200"/>
<rect x="363" y="193" width="12" height="10" fill="#ffd200"/>
<rect x="375" y="193" width="11" height="10" fill="#ff9600"/>
<rect x="386" y="193" width="11" height="10" fill="#ff8000"/>
<rect x="397" y="193" width="12" height="10" fill="#ffaa00"/>
<rect x="409" y="193" width="11" height="10" fill="#ffd200"/>
<rect x="420" y="193" width="11" height="10" fill="#ffe600"/>
<rect x="431" y="193" width="12" height="10" fill="#ffe600"/>
<rect x="442" y="193" width="12" height="10" fill="#ffd200"/>
<rect x="454" y="193" width="11" height="10" fill="#ffbe00"/>
<rect x="465" y="193" width="12" height="10" fill="#ffbe00"/>
<rect x="476" y="193" width="12" height="10" fill="#ffff00"/>
<rect x="488" y="193" width="11" height="10" fill="#ffff00"/>
<rect x="499" y="193" width="12" height="10" fill="#ffff00"/>
<rect x="510" y="193" width="12" height="10" fill="#ffff00"/>
<rect x="533" y="193" width="12" height="10" fill="#ffff00"/>
<rect x="556" y="193" width="11" height="10" fill="#ffff00"/>
<rect x="578" y="193" width="12" height="10" fill="#ffff00"/>
<rect x="691" y="193" width="12" height="10" fill="#ffff00"/>
<rect x="103" y="202" width="12" height="10" fill="#ffff00"/>
<rect x="216" y="202" width="12" height="10" fill="#ffff00"/>
<rect x="239" y="202" width="11" height="10" fill="#ffe600"/>
<rect x="329" y="202" width="12" height="10" fill="#ffff00"/>
<rect x="341" y="202" width="11" height="10" fill="#ffe600"/>
<rect x="363" y="202" width="12" height="10" fill="#ffe600"/>
<rect x="375" y="202" width="11" height="10" fill="#ffbe00"/>
<rect x="386" y="202" width="11" height="10" fill="#ff8000"/>
<rect x="397" y="202" width="12" height="10" fill="#ff8000"/>
<rect x="409" y="202" width="11" height="10" fill="#ffaa00"/>
<rect x="420" y="202" width="11" height="10" fill="#ffd200"/>
<rect x="431" y="202" width="12" height="10" fill="#ffe600"/>
<rect x="442" y="202" width="12" height="10" fill="#ffd200"/>
<rect x="454" y="202" width="11" height="10" fill="#ffe600"/>
<rect x="465" y="202" width="12" height="10" fill="#ffbe00"/>
<rect x="476" y="202" width="12" height="10" fill="#ffe600"/>
<rect x="488" y="202" width="11" height="10" fill="#ffd200"/>
<rect x="499" y="202" width="12" height="10" fill="#ffd200"/>
<rect x="510" y="202" width="12" height="10" fill="#ffe600"/>
<rect x="522" y="202" width="11" height="10" fill="#ffff00"/>
<rect x="533" y="202" width="12" height="10" fill="#ffff00"/>
<rect x="544" y="202" width="12" height="10" fill="#ffff00"/>
<rect x="556" y="202" width="11" height="10" fill="#ffff00"/>
<rect x="590" y="202" width="11" height="10" fill="#ffff00"/>
<rect x="601" y="202" width="11" height="10" fill="#ffff00"/>
<rect x="725" y="202" width="12" height="10" fill="#ffff00"/>
<rect x="227" y="212" width="12" height="10" fill="#ffff00"/>
<rect x="239" y="212" width="11" height="10" fill="#ffff00"/>
<rect x="261" y="212" width="12" height="10" fill="#ffff00"/>
<rect x="273" y="212" width="11" height="10" fill="#ffff00"/>
<rect x="284" y="212" width="12" height="10" fill="#ffff00"/>
<rect x="295" y="212" width="12" height="10" fill="#ffff00"/>
<rect x="341" y="212" width="11" height="10" fill="#ffff00"/>
<rect x="352" y="212" width="12" height="10" fill="#ffff00"/>
<rect x="363" y="212" width="12" height="10" fill="#ffe600"/>
<rect x="375" y="212" width="11" height="10" fill="#ffd200"/>
<rect x="386" y="212" width="11" height="10" fill="#ffbe00"/>
<rect x="397" y="212" width="12" height="10" fill="#ff6a00"/>
<rect x="409" y="212" width="11" height="10" fill="#ffbe00"/>
<rect x="420" y="212" width="11" height="10" fill="#ffbe00"/>
<rect x="431" y="212" width="12" height="10" fill="#ffaa00"/>
<rect x="442" y="212" width="12" height="10" fill="#ffbe00"/>
<rect x="454" y="212" width="11" height="10" fill="#ffbe00"/>
<rect x="465" y="212" width="12" height="10" fill="#ffbe00"/>
<rect x="476" y="212" width="12" height="10" fill="#ffbe00"/>
<rect x="488" y="212" width="11" height="10" fill="#ffbe00"/>
<rect x="499" y="212" width="12" height="10" fill="#ffff00"/>
<rect x="510" y="212" width="12" height="10" fill="#ffe600"/>
<rect x="533" y="212" width="12" height="10" fill="#ffff00"/>
<rect x="612" y="212" width="12" height="10" fill="#ffff00"/>
<rect x="657" y="212" width="12" height="10" fill="#ffff00"/>
<rect x="160" y="221" width="11" height="10" fill="#ffff00"/>
<rect x="284" y="221" width="12" height="10" fill="#ffff00"/>
<rect x="307" y="221" width="11" height="10" fill="#ffff00"/>
<rect x="318" y="221" width="12" height="10" fill="#ffff00"/>
<rect x="352" y="221" width="12" height="10" fill="#ffe600"/>
<rect x="363" y="221" width="12" height="10" fill="#ffd200"/>
<rect x="375" y="221" width="11" height="10" fill="#ffd200"/>
<rect x="386" y="221" width="11" height="10" fill="#ff9600"/>
<rect x="397" y="221" width="12" height="10" fill="#ff6a00"/>
<rect x="409" y="221" width="11" height="10" fill="#ff8000"/>
<rect x="420" y="221" width="11" height="10" fill="#ff9600"/>
<rect x="431" y="221" width="12" height="10" fill="#ff9600"/>
<rect x="442" y="221" width="12" height="10" fill="#ff9600"/>
<rect x="454" y="221" width="11" height="10" fill="#ff9600"/>
<rect x="465" y="221" width="12" height="10" fill="#ffaa00"/>
<rect x="476" y="221" width="12" height="10" fill="#ffbe00"/>
<rect x="488" y="221" width="11" height="10" fill="#ffd200"/>
<rect x="499" y="221" width="12" height="10" fill="#ffd200"/>
<rect x="510" y="221" width="12" height="10" fill="#ffe600"/>
<rect x="522" y="221" width="11" height="10" fill="#ffff00"/>
<rect x="533" y="221" width="12" height="10" fill="#ffe600"/>
<rect x="544" y="221" width="12" height="10" fill="#ffff00"/>
<rect x="612" y="221" width="12" height="10" fill="#ffe600"/>
<rect x="646" y="221" width="12" height="10" fill="#ffff00"/>
<rect x="137" y="230" width="12" height="10" fill="#ffff00"/>
<rect x="261" y="230" width="12" height="10" fill="#ffff00"/>
<rect x="318" y="230" width="12" height="10" fill="#ffff00"/>
<rect x="329" y="230" width="12" height="10" fill="#ffff00"/>
<rect x="341" y="230" width="11" height="10" fill="#ffd200"/>
<rect x="352" y="230" width="12" height="10" fill="#ffd200"/>
<rect x="363" y="230" width="12" height="10" fill="#ffbe00"/>
<rect x="375" y="230" width="11" height="10" fill="#ffbe00"/>
<rect x="386" y="230" width="11" height="10" fill="#ff9600"/>
<rect x="397" y="230" width="12" height="10" fill="#ff6a00"/>
<rect x="409" y="230" width="11" height="10" fill="#ff6a00"/>
<rect x="420" y="230" width="11" height="10" fill="#ff6a00"/>
<rect x="431" y="230" width="12" height="10" fill="#ff6a00"/>
<rect x="442" y="230" width="12" height="10" fill="#ff6a00"/>
<rect x="454" y="230" width="11" height="10" fill="#ff8000"/>
<rect x="465" y="230" width="12" height="10" fill="#ff9600"/>
<rect x="476" y="230" width="12" height="10" fill="#ffbe00"/>
<rect x="488" y="230" width="11" height="10" fill="#ffd200"/>
<rect x="499" y="230" width="12" height="10" fill="#ffd200"/>
<rect x="510" y="230" width="12" height="10" fill="#ffe600"/>
<rect x="522" y="230" width="11" height="10" fill="#ffff00"/>
<rect x="533" y="230" width="12" height="10" fill="#ffe600"/>
<rect x="544" y="230" width="12" height="10" fill="#ffff00"/>
<rect x="623" y="230" width="12" height="10" fill="#ffff00"/>
<rect x="239" y="240" width="11" height="10" fill="#ffff00"/>
<rect x="261" y="240" width="12" height="10" fill="#ffe600"/>
<rect x="307" y="240" width="11" height="10" fill="#ffe600"/>
<rect x="318" y="240" width="12" height="10" fill="#ffff00"/>
<rect x="341" y="240" width="11" height="10" fill="#ffd200"/>
<rect x="352" y="240" width="12" height="10" fill="#ffd200"/>
<rect x="363" y="240" width="12" height="10" fill="#ffbe00"/>
<rect x="375" y="240" width="11" height="10" fill="#ff9600"/>
<rect x="386" y="240" width="11" height="10" fill="#ff8000"/>
<rect x="397" y="240" width="12" height="10" fill="#ff6a00"/>
<rect x="409" y="240" width="11" height="10" fill="#f02000"/>
<rect x="420" y="240" width="11" height="10" fill="#e01000"/>
<rect x="431" y="240" width="12" height="10" fill="#e01000"/>
<rect x="442" y="240" width="12" height="10" fill="#f02000"/>
<rect x="454" y="240" width="11" height="10" fill="#ff6a00"/>
<rect x="465" y="240" width="12" height="10" fill="#ff9600"/>
<rect x="476" y="240" width="12" height="10" fill="#ff9600"/>
<rect x="488" y="240" width="11" height="10" fill="#ffaa00"/>
<rect x="499" y="240" width="12" height="10" fill="#ffbe00"/>
<rect x="510" y="240" width="12" height="10" fill="#ffe600"/>
<rect x="522" y="240" width="11" height="10" fill="#ffff00"/>
<rect x="556" y="240" width="11" height="10" fill="#ffe600"/>
<rect x="657" y="240" width="12" height="10" fill="#ffff00"/>
<rect x="160" y="249" width="11" height="10" fill="#ffff00"/>
<rect x="205" y="249" width="11" height="10" fill="#ffff00"/>
<rect x="239" y="249" width="11" height="10" fill="#ffff00"/>
<rect x="284" y="249" width="12" height="10" fill="#ffff00"/>
<rect x="307" y="249" width="11" height="10" fill="#ffe600"/>
<rect x="318" y="249" width="12" height="10" fill="#ffff00"/>
<rect x="329" y="249" width="12" height="10" fill="#ffff00"/>
<rect x="341" y="249" width="11" height="10" fill="#ffd200"/>
<rect x="352" y="249" width="12" height="10" fill="#ffd200"/>
<rect x="363" y="249" width="12" height="10" fill="#ffaa00"/>
<rect x="375" y="249" width="11" height="10" fill="#ffaa00"/>
<rect x="386" y="249" width="11" height="10" fill="#ffaa00"/>
<rect x="397" y="249" width="12" height="10" fill="#ff6a00"/>
<rect x="409" y="249" width="11" height="10" fill="#e01000"/>
<rect x="420" y="249" width="11" height="10" fill="#e01000"/>
<rect x="431" y="249" width="12" height="10" fill="#c80a00"/>
<rect x="442" y="249" width="12" height="10" fill="#e01000"/>
<rect x="454" y="249" width="11" height="10" fill="#ff6a00"/>
<rect x="465" y="249" width="12" height="10" fill="#ff9600"/>
<rect x="476" y="249" width="12" height="10" fill="#ffaa00"/>
<rect x="488" y="249" width="11" height="10" fill="#ff9600"/>
<rect x="499" y="249" width="12" height="10" fill="#ffaa00"/>
<rect x="510" y="249" width="12" height="10" fill="#ffbe00"/>
<rect x="522" y="249" width="11" height="10" fill="#ffbe00"/>
<rect x="533" y="249" width="12" height="10" fill="#ffff00"/>
<rect x="612" y="249" width="12" height="10" fill="#ffff00"/>
<rect x="623" y="249" width="12" height="10" fill="#ffff00"/>
<rect x="261" y="259" width="12" height="10" fill="#ffff00"/>
<rect x="284" y="259" width="12" height="10" fill="#ffe600"/>
<rect x="295" y="259" width="12" height="10" fill="#ffff00"/>
<rect x="363" y="259" width="12" height="10" fill="#ffaa00"/>
<rect x="375" y="259" width="11" height="10" fill="#ffaa00"/>
<rect x="386" y="259" width="11" height="10" fill="#ffaa00"/>
<rect x="397" y="259" width="12" height="10" fill="#ff8000"/>
<rect x="409" y="259" width="11" height="10" fill="#ff4a00"/>
<rect x="420" y="259" width="11" height="10" fill="#f02000"/>
<rect x="431" y="259" width="12" height="10" fill="#e01000"/>
<rect x="442" y="259" width="12" height="10" fill="#ff4a00"/>
<rect x="454" y="259" width="11" height="10" fill="#ff8000"/>
<rect x="465" y="259" width="12" height="10" fill="#ffbe00"/>
<rect x="476" y="259" width="12" height="10" fill="#ffaa00"/>
<rect x="488" y="259" width="11" height="10" fill="#ffe600"/>
<rect x="499" y="259" width="12" height="10" fill="#ffbe00"/>
<rect x="510" y="259" width="12" height="10" fill="#ffbe00"/>
<rect x="522" y="259" width="11" height="10" fill="#ff9600"/>
<rect x="533" y="259" width="12" height="10" fill="#ffbe00"/>
<rect x="544" y="259" width="12" height="10" fill="#ffe600"/>
<rect x="612" y="259" width="12" height="10" fill="#ffff00"/>
<rect x="239" y="268" width="11" height="10" fill="#ffff00"/>
<rect x="261" y="268" width="12" height="10" fill="#ffff00"/>
<rect x="273" y="268" width="11" height="10" fill="#ffff00"/>
<rect x="284" y="268" width="12" height="10" fill="#ffff00"/>
<rect x="318" y="268" width="12" height="10" fill="#ffe600"/>
<rect x="341" y="268" width="11" height="10" fill="#ffff00"/>
<rect x="352" y="268" width="12" height="10" fill="#ffe600"/>
<rect x="363" y="268" width="12" height="10" fill="#ffe600"/>
<rect x="375" y="268" width="11" height="10" fill="#ffd200"/>
<rect x="386" y="268" width="11" height="10" fill="#ffaa00"/>
<rect x="397" y="268" width="12" height="10" fill="#ffaa00"/>
<rect x="409" y="268" width="11" height="10" fill="#ff8000"/>
<rect x="420" y="268" width="11" height="10" fill="#ff9600"/>
<rect x="431" y="268" width="12" height="10" fill="#ff8000"/>
<rect x="442" y="268" width="12" height="10" fill="#ff9600"/>
<rect x="454" y="268" width="11" height="10" fill="#ff9600"/>
<rect x="465" y="268" width="12" height="10" fill="#ffbe00"/>
<rect x="476" y="268" width="12" height="10" fill="#ffbe00"/>
<rect x="488" y="268" width="11" height="10" fill="#ffd200"/>
<rect x="499" y="268" width="12" height="10" fill="#ffbe00"/>
<rect x="522" y="268" width="11" height="10" fill="#ffff00"/>
<rect x="533" y="268" width="12" height="10" fill="#ffd200"/>
<rect x="544" y="268" width="12" height="10" fill="#ffd200"/>
<rect x="556" y="268" width="11" height="10" fill="#ffd200"/>
<rect x="567" y="268" width="12" height="10" fill="#ffff00"/>
<rect x="590" y="268" width="11" height="10" fill="#ffe600"/>
<rect x="612" y="268" width="12" height="10" fill="#ffff00"/>
<rect x="623" y="268" width="12" height="10" fill="#ffff00"/>
<rect x="691" y="268" width="12" height="10" fill="#ffff00"/>
<rect x="126" y="277" width="11" height="10" fill="#ffff00"/>
<rect x="171" y="277" width="12" height="10" fill="#ffff00"/>
<rect x="318" y="277" width="12" height="10" fill="#ffff00"/>
<rect x="329" y="277" width="12" height="10" fill="#ffe600"/>
<rect x="352" y="277" width="12" height="10" fill="#ffe600"/>
<rect x="375" y="277" width="11" height="10" fill="#ffbe00"/>
<rect x="386" y="277" width="11" height="10" fill="#ffaa00"/>
<rect x="397" y="277" width="12" height="10" fill="#ffaa00"/>
<rect x="409" y="277" width="11" height="10" fill="#ffaa00"/>
<rect x="420" y="277" width="11" height="10" fill="#ffaa00"/>
<rect x="431" y="277" width="12" height="10" fill="#ffaa00"/>
<rect x="442" y="277" width="12" height="10" fill="#ffbe00"/>
<rect x="454" y="277" width="11" height="10" fill="#ffaa00"/>
<rect x="465" y="277" width="12" height="10" fill="#ffaa00"/>
<rect x="476" y="277" width="12" height="10" fill="#ffd200"/>
<rect x="488" y="277" width="11" height="10" fill="#ffe600"/>
<rect x="499" y="277" width="12" height="10" fill="#ffe600"/>
<rect x="510" y="277" width="12" height="10" fill="#ffe600"/>
<rect x="522" y="277" width="11" height="10" fill="#ffff00"/>
<rect x="533" y="277" width="12" height="10" fill="#ffff00"/>
<rect x="544" y="277" width="12" height="10" fill="#ffe600"/>
<rect x="556" y="277" width="11" height="10" fill="#ffbe00"/>
<rect x="567" y="277" width="12" height="10" fill="#ffd200"/>
<rect x="623" y="277" width="12" height="10" fill="#ffff00"/>
<rect x="657" y="277" width="12" height="10" fill="#ffe600"/>
<rect x="318" y="287" width="12" height="10" fill="#ffe600"/>
<rect x="329" y="287" width="12" height="10" fill="#ffff00"/>
<rect x="341" y="287" width="11" height="10" fill="#ffff00"/>
<rect x="352" y="287" width="12" height="10" fill="#ffff00"/>
<rect x="363" y="287" width="12" height="10" fill="#ffe600"/>
<rect x="375" y="287" width="11" height="10" fill="#ffbe00"/>
<rect x="386" y="287" width="11" height="10" fill="#ffd200"/>
<rect x="397" y="287" width="12" height="10" fill="#ffbe00"/>
<rect x="409" y="287" width="11" height="10" fill="#ffd200"/>
<rect x="420" y="287" width="11" height="10" fill="#ffd200"/>
<rect x="431" y="287" width="12" height="10" fill="#ffe600"/>
<rect x="442" y="287" width="12" height="10" fill="#ffe600"/>
<rect x="454" y="287" width="11" height="10" fill="#ffd200"/>
<rect x="465" y="287" width="12" height="10" fill="#ffd200"/>
<rect x="476" y="287" width="12" height="10" fill="#ffff00"/>
<rect x="488" y="287" width="11" height="10" fill="#ffff00"/>
<rect x="499" y="287" width="12" height="10" fill="#ffe600"/>
<rect x="510" y="287" width="12" height="10" fill="#ffff00"/>
<rect x="522" y="287" width="11" height="10" fill="#ffe600"/>
<rect x="533" y="287" width="12" height="10" fill="#ffe600"/>
<rect x="544" y="287" width="12" height="10" fill="#ffff00"/>
<rect x="556" y="287" width="11" height="10" fill="#ffd200"/>
<rect x="567" y="287" width="12" height="10" fill="#ffbe00"/>
<rect x="590" y="287" width="11" height="10" fill="#ffe600"/>
<rect x="646" y="287" width="12" height="10" fill="#ffff00"/>
<rect x="669" y="287" width="11" height="10" fill="#ffff00"/>
<rect x="737" y="287" width="11" height="10" fill="#ffff00"/>
<rect x="137" y="296" width="12" height="10" fill="#ffff00"/>
<rect x="216" y="296" width="12" height="10" fill="#ffff00"/>
<rect x="273" y="296" width="11" height="10" fill="#ffe600"/>
<rect x="307" y="296" width="11" height="10" fill="#ffe600"/>
<rect x="329" y="296" width="12" height="10" fill="#ffff00"/>
<rect x="341" y="296" width="11" height="10" fill="#ffe600"/>
<rect x="352" y="296" width="12" height="10" fill="#ffff00"/>
<rect x="363" y="296" width="12" height="10" fill="#ffe600"/>
<rect x="375" y="296" width="11" height="10" fill="#ffff00"/>
<rect x="386" y="296" width="11" height="10" fill="#ffff00"/>
<rect x="397" y="296" width="12" height="10" fill="#ffff00"/>
<rect x="409" y="296" width="11" height="10" fill="#ffff00"/>
<rect x="420" y="296" width="11" height="10" fill="#ffff00"/>
<rect x="431" y="296" width="12" height="10" fill="#ffe600"/>
<rect x="442" y="296" width="12" height="10" fill="#ffe600"/>
<rect x="454" y="296" width="11" height="10" fill="#ffe600"/>
<rect x="465" y="296" width="12" height="10" fill="#ffd200"/>
<rect x="476" y="296" width="12" height="10" fill="#ffff00"/>
<rect x="488" y="296" width="11" height="10" fill="#ffff00"/>
<rect x="499" y="296" width="12" height="10" fill="#ffff00"/>
<rect x="510" y="296" width="12" height="10" fill="#ffff00"/>
<rect x="522" y="296" width="11" height="10" fill="#ffe600"/>
<rect x="556" y="296" width="11" height="10" fill="#ffe600"/>
<rect x="567" y="296" width="12" height="10" fill="#ffbe00"/>
<rect x="680" y="296" width="12" height="10" fill="#ffff00"/>
<rect x="250" y="306" width="12" height="9" fill="#ffff00"/>
<rect x="352" y="306" width="12" height="9" fill="#ffff00"/>
<rect x="375" y="306" width="11" height="9" fill="#ffff00"/>
<rect x="386" y="306" width="11" height="9" fill="#ffff00"/>
<rect x="409" y="306" width="11" height="9" fill="#ffe600"/>
<rect x="420" y="306" width="11" height="9" fill="#ffff00"/>
<rect x="442" y="306" width="12" height="9" fill="#ffff00"/>
<rect x="465" y="306" width="12" height="9" fill="#ffff00"/>
<rect x="476" y="306" width="12" height="9" fill="#ffff00"/>
<rect x="488" y="306" width="11" height="9" fill="#ffe600"/>
<rect x="499" y="306" width="12" height="9" fill="#ffff00"/>
<rect x="533" y="306" width="12" height="9" fill="#ffff00"/>
<rect x="567" y="306" width="12" height="9" fill="#ffe600"/>
<rect x="601" y="306" width="11" height="9" fill="#ffe600"/>
<rect x="612" y="306" width="12" height="9" fill="#ffff00"/>
<rect x="205" y="315" width="11" height="10" fill="#ffff00"/>
<rect x="261" y="315" width="12" height="10" fill="#ffff00"/>
<rect x="284" y="315" width="12" height="10" fill="#ffff00"/>
<rect x="307" y="315" width="11" height="10" fill="#ffe600"/>
<rect x="329" y="315" width="12" height="10" fill="#ffff00"/>
<rect x="341" y="315" width="11" height="10" fill="#ffff00"/>
<rect x="352" y="315" width="12" height="10" fill="#ffe600"/>
<rect x="363" y="315" width="12" height="10" fill="#ffe600"/>
<rect x="375" y="315" width="11" height="10" fill="#ffff00"/>
<rect x="386" y="315" width="11" height="10" fill="#ffff00"/>
<rect x="397" y="315" width="12" height="10" fill="#ffe600"/>
<rect x="420" y="315" width="11" height="10" fill="#ffe600"/>
<rect x="431" y="315" width="12" height="10" fill="#ffff00"/>
<rect x="476" y="315" width="12" height="10" fill="#ffff00"/>
<rect x="488" y="315" width="11" height="10" fill="#ffe600"/>
<rect x="522" y="315" width="11" height="10" fill="#ffff00"/>
<rect x="635" y="315" width="11" height="10" fill="#ffff00"/>
<rect x="171" y="324" width="12" height="10" fill="#ffff00"/>
<rect x="227" y="324" width="12" height="10" fill="#ffff00"/>
<rect x="307" y="324" width="11" height="10" fill="#ffff00"/>
<rect x="318" y="324" width="12" height="10" fill="#ffff00"/>
<rect x="386" y="324" width="11" height="10" fill="#ffe600"/>
<rect x="397" y="324" width="12" height="10" fill="#ffff00"/>
<rect x="409" y="324" width="11" height="10" fill="#ffff00"/>
<rect x="420" y="324" width="11" height="10" fill="#ffff00"/>
<rect x="431" y="324" width="12" height="10" fill="#ffff00"/>
<rect x="442" y="324" width="12" height="10" fill="#ffff00"/>
<rect x="454" y="324" width="11" height="10" fill="#ffff00"/>
<rect x="465" y="324" width="12" height="10" fill="#ffff00"/>
<rect x="476" y="324" width="12" height="10" fill="#ffff00"/>
<rect x="499" y="324" width="12" height="10" fill="#ffe600"/>
<rect x="510" y="324" width="12" height="10" fill="#ffff00"/>
<rect x="533" y="324" width="12" height="10" fill="#ffff00"/>
<rect x="680" y="324" width="12" height="10" fill="#ffff00"/>
<rect x="284" y="334" width="12" height="10" fill="#ffff00"/>
<rect x="363" y="334" width="12" height="10" fill="#ffff00"/>
<rect x="375" y="334" width="11" height="10" fill="#ffe600"/>
<rect x="386" y="334" width="11" height="10" fill="#ffff00"/>
<rect x="397" y="334" width="12" height="10" fill="#ffe600"/>
<rect x="420" y="334" width="11" height="10" fill="#ffff00"/>
<rect x="454" y="334" width="11" height="10" fill="#ffff00"/>
<rect x="510" y="334" width="12" height="10" fill="#ffff00"/>
<rect x="623" y="334" width="12" height="10" fill="#ffff00"/>
<rect x="635" y="334" width="11" height="10" fill="#ffff00"/>
<rect x="261" y="343" width="12" height="10" fill="#ffff00"/>
<rect x="318" y="343" width="12" height="10" fill="#ffff00"/>
<rect x="329" y="343" width="12" height="10" fill="#ffff00"/>
<rect x="363" y="343" width="12" height="10" fill="#ffe600"/>
<rect x="375" y="343" width="11" height="10" fill="#ffff00"/>
<rect x="397" y="343" width="12" height="10" fill="#ffe600"/>
<rect x="409" y="343" width="11" height="10" fill="#ffff00"/>
<rect x="420" y="343" width="11" height="10" fill="#ffff00"/>
<rect x="522" y="343" width="11" height="10" fill="#ffff00"/>
<rect x="533" y="343" width="12" height="10" fill="#ffff00"/>
<rect x="646" y="343" width="12" height="10" fill="#ffff00"/>
<rect x="216" y="353" width="12" height="9" fill="#ffff00"/>
<rect x="261" y="353" width="12" height="9" fill="#ffff00"/>
<rect x="352" y="353" width="12" height="9" fill="#ffff00"/>
<rect x="386" y="353" width="11" height="9" fill="#ffff00"/>
<rect x="397" y="353" width="12" height="9" fill="#ffff00"/>
<rect x="409" y="353" width="11" height="9" fill="#ffe600"/>
<rect x="431" y="353" width="12" height="9" fill="#ffff00"/>
<rect x="442" y="353" width="12" height="9" fill="#ffff00"/>
<rect x="476" y="353" width="12" height="9" fill="#ffe600"/>
<rect x="522" y="353" width="11" height="9" fill="#ffff00"/>
<rect x="623" y="353" width="12" height="9" fill="#ffe600"/>
<rect x="148" y="362" width="12" height="10" fill="#ffff00"/>
<rect x="284" y="362" width="12" height="10" fill="#ffff00"/>
<rect x="329" y="362" width="12" height="10" fill="#ffff00"/>
<rect x="341" y="362" width="11" height="10" fill="#ffff00"/>
<rect x="386" y="362" width="11" height="10" fill="#ffff00"/>
<rect x="397" y="362" width="12" height="10" fill="#ffff00"/>
<rect x="431" y="362" width="12" height="10" fill="#ffff00"/>
<rect x="476" y="362" width="12" height="10" fill="#ffff00"/>
<rect x="556" y="362" width="11" height="10" fill="#ffff00"/>
<rect x="601" y="362" width="11" height="10" fill="#ffff00"/>
<rect x="612" y="362" width="12" height="10" fill="#ffff00"/>
<rect x="646" y="362" width="12" height="10" fill="#ffff00"/>
<rect x="657" y="362" width="12" height="10" fill="#ffff00"/>
<rect x="363" y="371" width="12" height="10" fill="#ffe600"/>
<rect x="386" y="371" width="11" height="10" fill="#ffff00"/>
<rect x="171" y="381" width="12" height="10" fill="#ffff00"/>
<rect x="194" y="381" width="11" height="10" fill="#ffff00"/>
<rect x="216" y="381" width="12" height="10" fill="#ffff00"/>
<rect x="261" y="381" width="12" height="10" fill="#ffff00"/>
<rect x="386" y="381" width="11" height="10" fill="#ffe600"/>
<rect x="397" y="381" width="12" height="10" fill="#ffe600"/>
<rect x="409" y="381" width="11" height="10" fill="#ffff00"/>
<rect x="284" y="390" width="12" height="10" fill="#ffff00"/>
<rect x="375" y="390" width="11" height="10" fill="#ffff00"/>
<rect x="295" y="400" width="12" height="9" fill="#ffff00"/>
<rect x="329" y="400" width="12" height="9" fill="#ffff00"/>
<rect x="273" y="409" width="11" height="10" fill="#ffff00"/>
<rect x="307" y="409" width="11" height="10" fill="#ffff00"/>
<rect x="352" y="409" width="12" height="10" fill="#ffff00"/>
<rect x="590" y="409" width="11" height="10" fill="#ffff00"/>
<rect x="284" y="418" width="12" height="10" fill="#ffff00"/>
<rect x="601" y="418" width="11" height="10" fill="#ffff00"/>
<rect x="397" y="428" width="12" height="10" fill="#ffff00"/>
<rect x="420" y="428" width="11" height="10" fill="#ffff00"/>
<rect x="431" y="428" width="12" height="10" fill="#ffff00"/>
<rect x="465" y="428" width="12" height="10" fill="#ffff00"/>
<rect x="341" y="437" width="11" height="10" fill="#ffff00"/>
<rect x="352" y="437" width="12" height="10" fill="#ffff00"/>
<rect x="442" y="437" width="12" height="10" fill="#ffff00"/>
</g></g>
<g fill="none" stroke="#7a7a7a" stroke-width="2" stroke-linejoin="round" stroke-linecap="butt" clip-path="url(#pc)">
<path d="M278.4,41 L282,55.2 Q283,58 285,59.3 L330.1,83.8"/>
<path d="M349.7,116.9 L361,166.4 L403.8,213.8 L406.9,234.2 L421,253.6"/>
<path d="M444.2,115.3 L456.1,149.7 L456.1,190.9 L472.8,210.8 L481.9,240.1"/>
<path d="M432.4,219.6 L472.8,241.9 L543,269 L548,273 L581.2,305.2"/>
<path d="M447.3,275.9 L470.7,293.3 L512.1,306"/>
<path d="M685.1,195.7 L770,211.8"/>
<path d="M631.8,359.7 L706.4,463"/>
</g>
<g fill="none" stroke="#606060" stroke-width="1" stroke-dasharray="1,1" clip-path="url(#pc)">
<path d="M241,41 L245.4,59.3 L247.9,65.5 L267.1,75.1 L294,90 L330.1,83.8"/>
<path d="M245.4,59.3 L280.9,52.2"/><path d="M267.1,75.1 L301.5,69"/>
</g>
<g shape-rendering="crispEdges" fill="none">
<line x1="99.5" y1="41.5" x2="765.5" y2="41.5" stroke="#c4c4c4"/>
<line x1="765.5" y1="41.5" x2="765.5" y2="463.5" stroke="#c4c4c4"/>
<line x1="99.5" y1="41" x2="99.5" y2="464" stroke="#999"/>
<line x1="99" y1="463.5" x2="766" y2="463.5" stroke="#999"/>
</g>
<text x="400.5" y="23" font-family="Liberation Sans, sans-serif" font-size="24" font-weight="bold" text-anchor="middle" textLength="299" lengthAdjust="spacingAndGlyphs">1 Month M≥5 Forecast</text>
<text x="90.5" y="120.3" font-family="Liberation Sans, sans-serif" font-size="22" text-anchor="end" textLength="41" lengthAdjust="spacingAndGlyphs">40.5</text>
<text x="90.5" y="237.3" font-family="Liberation Sans, sans-serif" font-size="22" text-anchor="end" textLength="55" lengthAdjust="spacingAndGlyphs">40.25</text>
<text x="90.5" y="354.3" font-family="Liberation Sans, sans-serif" font-size="22" text-anchor="end" textLength="24" lengthAdjust="spacingAndGlyphs">40</text>
<text x="210.4" y="487" font-family="Liberation Sans, sans-serif" font-size="22" text-anchor="middle" textLength="61.5" lengthAdjust="spacingAndGlyphs">-121.5</text>
<text x="352" y="487" font-family="Liberation Sans, sans-serif" font-size="22" text-anchor="middle" textLength="75" lengthAdjust="spacingAndGlyphs">-121.25</text>
<text x="493.3" y="487" font-family="Liberation Sans, sans-serif" font-size="22" text-anchor="middle" textLength="43.4" lengthAdjust="spacingAndGlyphs">-121</text>
<text x="634.2" y="487" font-family="Liberation Sans, sans-serif" font-size="22" text-anchor="middle" textLength="75" lengthAdjust="spacingAndGlyphs">-120.75</text>
<text x="432.8" y="516.8" font-family="Liberation Sans, sans-serif" font-size="21.5" text-anchor="middle" textLength="107" lengthAdjust="spacingAndGlyphs">Longitude</text>
<text x="0" y="0" font-family="Liberation Sans, sans-serif" font-size="21.5" text-anchor="middle" textLength="87.4" lengthAdjust="spacingAndGlyphs" transform="translate(24.9,251.3) rotate(-90)">Latitude</text>
<g shape-rendering="crispEdges">
<rect x="50" y="530.5" width="35.7" height="15" fill="#ffff00"/>
<rect x="85.7" y="530.5" width="35" height="15" fill="#ffe600"/>
<rect x="120.7" y="530.5" width="35" height="15" fill="#ffd200"/>
<rect x="155.7" y="530.5" width="35" height="15" fill="#ffbe00"/>
<rect x="190.7" y="530.5" width="35" height="15" fill="#ffaa00"/>
<rect x="225.7" y="530.5" width="35" height="15" fill="#ff9600"/>
<rect x="260.7" y="530.5" width="35" height="15" fill="#ff8000"/>
<rect x="295.7" y="530.5" width="35" height="15" fill="#ff6a00"/>
<rect x="330.7" y="530.5" width="35" height="15" fill="#ff4a00"/>
<rect x="365.7" y="530.5" width="35" height="15" fill="#f02000"/>
<rect x="400.7" y="530.5" width="35" height="15" fill="#e01000"/>
<rect x="435.7" y="530.5" width="35" height="15" fill="#c80a00"/>
<rect x="470.7" y="530.5" width="35" height="15" fill="#b00600"/>
<rect x="505.7" y="530.5" width="35" height="15" fill="#960400"/>
<rect x="540.7" y="530.5" width="35" height="15" fill="#800000"/>
<rect x="575.7" y="530.5" width="35" height="15" fill="#6a0000"/>
<rect x="610.7" y="530.5" width="35" height="15" fill="#560000"/>
<rect x="645.7" y="530.5" width="35" height="15" fill="#400000"/>
<rect x="680.7" y="530.5" width="35" height="15" fill="#2a0000"/>
<rect x="715.7" y="530.5" width="35" height="15" fill="#050505"/>
<rect x="50" y="530.5" width="700" height="15" fill="none" stroke="#a0a0a0" stroke-width="1"/>
<line x1="50" y1="545.5" x2="50" y2="549" stroke="#c0c0c0"/>
<line x1="120" y1="545.5" x2="120" y2="549" stroke="#c0c0c0"/>
<line x1="190" y1="545.5" x2="190" y2="549" stroke="#c0c0c0"/>
<line x1="260" y1="545.5" x2="260" y2="549" stroke="#c0c0c0"/>
<line x1="330" y1="545.5" x2="330" y2="549" stroke="#c0c0c0"/>
<line x1="400" y1="545.5" x2="400" y2="549" stroke="#c0c0c0"/>
<line x1="470" y1="545.5" x2="470" y2="549" stroke="#c0c0c0"/>
<line x1="540" y1="545.5" x2="540" y2="549" stroke="#c0c0c0"/>
<line x1="610" y1="545.5" x2="610" y2="549" stroke="#c0c0c0"/>
<line x1="680" y1="545.5" x2="680" y2="549" stroke="#c0c0c0"/>
<line x1="750" y1="545.5" x2="750" y2="549" stroke="#c0c0c0"/>
</g>
<text x="49.5" y="568.6" font-family="Liberation Sans, sans-serif" font-size="22" text-anchor="middle" textLength="35.7" lengthAdjust="spacingAndGlyphs">-5.0</text>
<text x="119.5" y="568.6" font-family="Liberation Sans, sans-serif" font-size="22" text-anchor="middle" textLength="35.7" lengthAdjust="spacingAndGlyphs">-4.5</text>
<text x="189.5" y="568.6" font-family="Liberation Sans, sans-serif" font-size="22" text-anchor="middle" textLength="35.7" lengthAdjust="spacingAndGlyphs">-4.0</text>
<text x="259.5" y="568.6" font-family="Liberation Sans, sans-serif" font-size="22" text-anchor="middle" textLength="35.7" lengthAdjust="spacingAndGlyphs">-3.5</text>
<text x="329.5" y="568.6" font-family="Liberation Sans, sans-serif" font-size="22" text-anchor="middle" textLength="35.7" lengthAdjust="spacingAndGlyphs">-3.0</text>
<text x="399.5" y="568.6" font-family="Liberation Sans, sans-serif" font-size="22" text-anchor="middle" textLength="35.7" lengthAdjust="spacingAndGlyphs">-2.5</text>
<text x="469.5" y="568.6" font-family="Liberation Sans, sans-serif" font-size="22" text-anchor="middle" textLength="35.7" lengthAdjust="spacingAndGlyphs">-2.0</text>
<text x="539.5" y="568.6" font-family="Liberation Sans, sans-serif" font-size="22" text-anchor="middle" textLength="35.7" lengthAdjust="spacingAndGlyphs">-1.5</text>
<text x="609.5" y="568.6" font-family="Liberation Sans, sans-serif" font-size="22" text-anchor="middle" textLength="35.7" lengthAdjust="spacingAndGlyphs">-1.0</text>
<text x="679.5" y="568.6" font-family="Liberation Sans, sans-serif" font-size="22" text-anchor="middle" textLength="35.7" lengthAdjust="spacingAndGlyphs">-0.5</text>
<text x="750" y="568.6" font-family="Liberation Sans, sans-serif" font-size="22" text-anchor="middle" textLength="29.2" lengthAdjust="spacingAndGlyphs">0.0</text>
<text x="400.3" y="598" font-family="Liberation Sans, sans-serif" font-size="21.5" text-anchor="middle" textLength="350" lengthAdjust="spacingAndGlyphs">Log10 Probability M≥5, 1 Month</text>
</svg></body></html>
